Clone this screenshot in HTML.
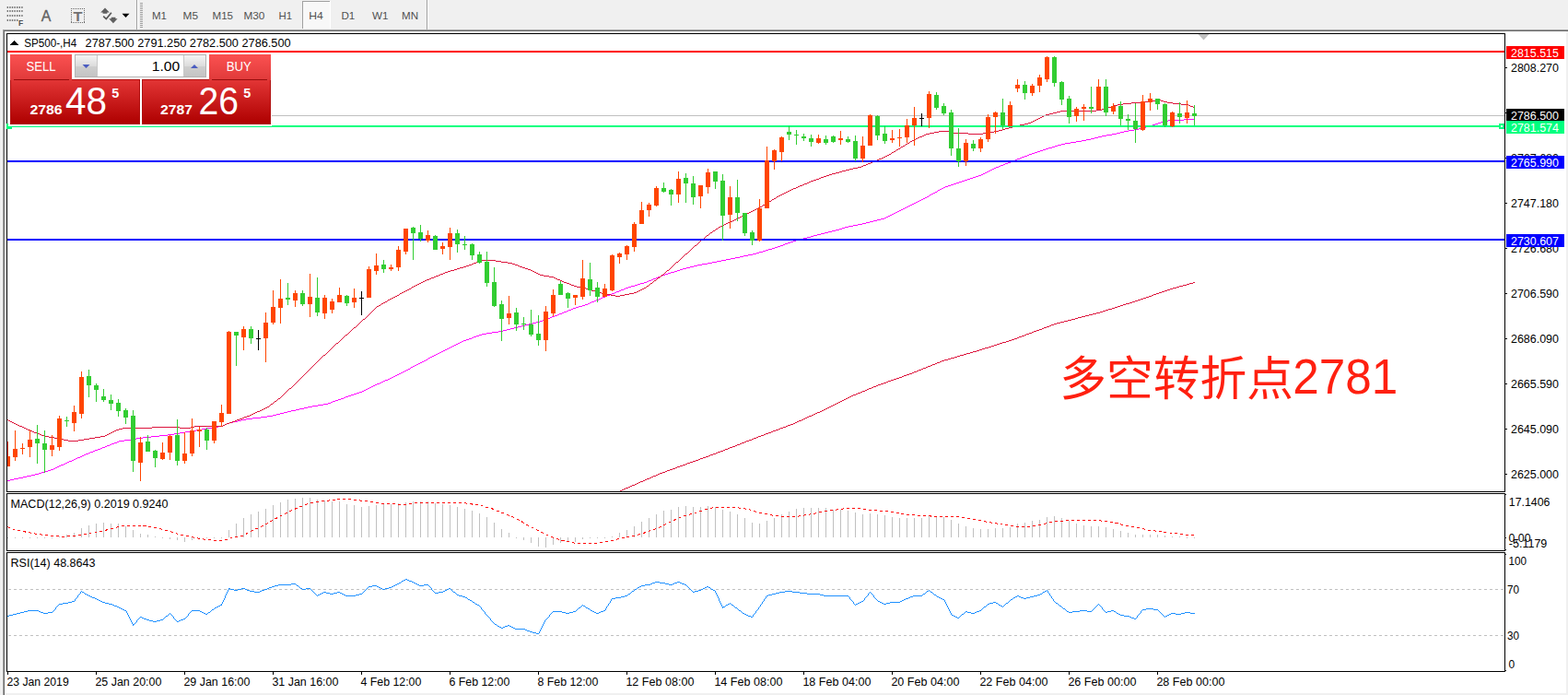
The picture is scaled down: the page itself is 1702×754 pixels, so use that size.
<!DOCTYPE html>
<html><head><meta charset="utf-8"><title>SP500 H4</title>
<style>html,body{margin:0;padding:0;background:#f0f0f0;overflow:hidden}body{width:1702px;height:754px;font-family:"Liberation Sans",sans-serif}svg text{font-family:"Liberation Sans",sans-serif}</style>
</head><body>
<svg width="1702" height="754" viewBox="0 0 1702 754" font-family="Liberation Sans, sans-serif" style="display:block">
<defs>
<linearGradient id="gTab" x1="0" y1="0" x2="0" y2="1"><stop offset="0" stop-color="#fb5151"/><stop offset="1" stop-color="#e03a3a"/></linearGradient>
<linearGradient id="gBig" x1="0" y1="0" x2="0" y2="1"><stop offset="0" stop-color="#e23535"/><stop offset="1" stop-color="#ae0000"/></linearGradient>
<linearGradient id="gBtn" x1="0" y1="0" x2="0" y2="1"><stop offset="0" stop-color="#f4f4f4"/><stop offset="0.5" stop-color="#dcdcdc"/><stop offset="0.5" stop-color="#cfcfcf"/><stop offset="1" stop-color="#c4c4c4"/></linearGradient>
</defs>
<rect x="0" y="0" width="1702" height="754" fill="#f0f0f0" />
<g shape-rendering="crispEdges">
<rect x="3" y="32" width="1699" height="1" fill="#a0a0a0" />
<rect x="3" y="33" width="1699" height="1" fill="#696969" />
<rect x="3" y="32" width="1" height="722" fill="#a0a0a0" />
<rect x="4" y="33" width="1" height="721" fill="#696969" />
<rect x="5" y="34" width="1695" height="718" fill="#ffffff" />
<rect x="148" y="0" width="1" height="32" fill="#a0a0a0" />
<rect x="149" y="0" width="1" height="32" fill="#ffffff" />
<rect x="463" y="0" width="1" height="32" fill="#a0a0a0" />
<rect x="464" y="0" width="1" height="32" fill="#ffffff" />
<rect x="152" y="3" width="3" height="1" fill="#a0a0a0" />
<rect x="152" y="5" width="3" height="1" fill="#a0a0a0" />
<rect x="152" y="7" width="3" height="1" fill="#a0a0a0" />
<rect x="152" y="9" width="3" height="1" fill="#a0a0a0" />
<rect x="152" y="11" width="3" height="1" fill="#a0a0a0" />
<rect x="152" y="13" width="3" height="1" fill="#a0a0a0" />
<rect x="152" y="15" width="3" height="1" fill="#a0a0a0" />
<rect x="152" y="17" width="3" height="1" fill="#a0a0a0" />
<rect x="152" y="19" width="3" height="1" fill="#a0a0a0" />
<rect x="152" y="21" width="3" height="1" fill="#a0a0a0" />
<rect x="152" y="23" width="3" height="1" fill="#a0a0a0" />
<rect x="152" y="25" width="3" height="1" fill="#a0a0a0" />
<rect x="152" y="27" width="3" height="1" fill="#a0a0a0" />
<rect x="152" y="29" width="3" height="1" fill="#a0a0a0" />
<rect x="328" y="1" width="31" height="30" fill="#f8f8f8" />
<rect x="328" y="1" width="31" height="1" fill="#a0a0a0" />
<rect x="328" y="1" width="1" height="30" fill="#a0a0a0" />
<rect x="358" y="1" width="1" height="30" fill="#ffffff" />
</g>
<rect x="7.6" y="7" width="1.4" height="2" fill="#7a7a7a"/>
<rect x="10.2" y="7" width="1.4" height="2" fill="#7a7a7a"/>
<rect x="12.8" y="7" width="1.4" height="2" fill="#7a7a7a"/>
<rect x="15.4" y="7" width="1.4" height="2" fill="#7a7a7a"/>
<rect x="18.0" y="7" width="1.4" height="2" fill="#7a7a7a"/>
<rect x="20.6" y="7" width="1.4" height="2" fill="#7a7a7a"/>
<rect x="23.2" y="7" width="1.4" height="2" fill="#7a7a7a"/>
<rect x="7.6" y="11" width="1.4" height="2" fill="#7a7a7a"/>
<rect x="10.2" y="11" width="1.4" height="2" fill="#7a7a7a"/>
<rect x="12.8" y="11" width="1.4" height="2" fill="#7a7a7a"/>
<rect x="15.4" y="11" width="1.4" height="2" fill="#7a7a7a"/>
<rect x="18.0" y="11" width="1.4" height="2" fill="#7a7a7a"/>
<rect x="20.6" y="11" width="1.4" height="2" fill="#7a7a7a"/>
<rect x="23.2" y="11" width="1.4" height="2" fill="#7a7a7a"/>
<rect x="7.6" y="16" width="1.4" height="2" fill="#7a7a7a"/>
<rect x="10.2" y="16" width="1.4" height="2" fill="#7a7a7a"/>
<rect x="12.8" y="16" width="1.4" height="2" fill="#7a7a7a"/>
<rect x="15.4" y="16" width="1.4" height="2" fill="#7a7a7a"/>
<rect x="18.0" y="16" width="1.4" height="2" fill="#7a7a7a"/>
<rect x="20.6" y="16" width="1.4" height="2" fill="#7a7a7a"/>
<rect x="23.2" y="16" width="1.4" height="2" fill="#7a7a7a"/>
<rect x="7.6" y="21" width="1.4" height="2" fill="#7a7a7a"/>
<rect x="10.2" y="21" width="1.4" height="2" fill="#7a7a7a"/>
<rect x="12.8" y="21" width="1.4" height="2" fill="#7a7a7a"/>
<rect x="15.4" y="21" width="1.4" height="2" fill="#7a7a7a"/>
<rect x="18.0" y="21" width="1.4" height="2" fill="#7a7a7a"/>
<g shape-rendering="crispEdges">
<rect x="77" y="9" width="1" height="1" fill="#686868" />
<rect x="77" y="24" width="1" height="1" fill="#686868" />
<rect x="79" y="9" width="1" height="1" fill="#686868" />
<rect x="79" y="24" width="1" height="1" fill="#686868" />
<rect x="81" y="9" width="1" height="1" fill="#686868" />
<rect x="81" y="24" width="1" height="1" fill="#686868" />
<rect x="83" y="9" width="1" height="1" fill="#686868" />
<rect x="83" y="24" width="1" height="1" fill="#686868" />
<rect x="85" y="9" width="1" height="1" fill="#686868" />
<rect x="85" y="24" width="1" height="1" fill="#686868" />
<rect x="87" y="9" width="1" height="1" fill="#686868" />
<rect x="87" y="24" width="1" height="1" fill="#686868" />
<rect x="89" y="9" width="1" height="1" fill="#686868" />
<rect x="89" y="24" width="1" height="1" fill="#686868" />
<rect x="91" y="9" width="1" height="1" fill="#686868" />
<rect x="91" y="24" width="1" height="1" fill="#686868" />
<rect x="77" y="9" width="1" height="1" fill="#686868" />
<rect x="91" y="9" width="1" height="1" fill="#686868" />
<rect x="77" y="11" width="1" height="1" fill="#686868" />
<rect x="91" y="11" width="1" height="1" fill="#686868" />
<rect x="77" y="13" width="1" height="1" fill="#686868" />
<rect x="91" y="13" width="1" height="1" fill="#686868" />
<rect x="77" y="15" width="1" height="1" fill="#686868" />
<rect x="91" y="15" width="1" height="1" fill="#686868" />
<rect x="77" y="17" width="1" height="1" fill="#686868" />
<rect x="91" y="17" width="1" height="1" fill="#686868" />
<rect x="77" y="19" width="1" height="1" fill="#686868" />
<rect x="91" y="19" width="1" height="1" fill="#686868" />
<rect x="77" y="21" width="1" height="1" fill="#686868" />
<rect x="91" y="21" width="1" height="1" fill="#686868" />
<rect x="77" y="23" width="1" height="1" fill="#686868" />
<rect x="91" y="23" width="1" height="1" fill="#686868" />
</g>
<text x="20" y="27.6" font-size="8.5" fill="#505050" font-weight="bold" >F</text>
<text x="44.8" y="22.6" font-size="16.5" fill="#606060" textLength="10.6" lengthAdjust="spacingAndGlyphs" stroke="#606060" stroke-width="0.3">A</text>
<text x="79.5" y="22.5" font-size="14.5" fill="#707070" textLength="10" lengthAdjust="spacingAndGlyphs" font-weight="bold" >T</text>
<path d="M114 8.4 L118.8 13.6 L116.3 13.6 L116.3 14.8 L111.6 14.8 L111.6 13.6 L109.2 13.6 Z" fill="#606060"/>
<path d="M122.9 25.3 L118.3 20.3 L120.7 20.3 L120.7 18.8 L125.4 18.8 L125.4 20.3 L127.6 20.3 Z" fill="#606060"/>
<path d="M112.2 17.7 L115.3 20.6 L120.9 13.7" fill="none" stroke="#585858" stroke-width="1.7"/>
<path d="M132.5 14.8 L140.5 14.8 L136.5 19 Z" fill="#000"/>
<text x="165" y="20.7" font-size="11.5" fill="#505050" textLength="16" lengthAdjust="spacingAndGlyphs" >M1</text>
<text x="198.5" y="20.7" font-size="11.5" fill="#505050" textLength="16.5" lengthAdjust="spacingAndGlyphs" >M5</text>
<text x="230.5" y="20.7" font-size="11.5" fill="#505050" textLength="22.5" lengthAdjust="spacingAndGlyphs" >M15</text>
<text x="264.4" y="20.7" font-size="11.5" fill="#505050" textLength="22.9" lengthAdjust="spacingAndGlyphs" >M30</text>
<text x="302.6" y="20.7" font-size="11.5" fill="#505050" textLength="14.5" lengthAdjust="spacingAndGlyphs" >H1</text>
<text x="335.2" y="20.7" font-size="11.5" fill="#505050" textLength="15.5" lengthAdjust="spacingAndGlyphs" >H4</text>
<text x="370.4" y="20.7" font-size="11.5" fill="#505050" textLength="14.8" lengthAdjust="spacingAndGlyphs" >D1</text>
<text x="404" y="20.7" font-size="11.5" fill="#505050" textLength="17.4" lengthAdjust="spacingAndGlyphs" >W1</text>
<text x="436" y="20.7" font-size="11.5" fill="#505050" textLength="18" lengthAdjust="spacingAndGlyphs" >MN</text>
<g shape-rendering="crispEdges">
<rect x="7" y="36" width="1627" height="1" fill="#000" />
<rect x="7" y="533" width="1627" height="1" fill="#000" />
<rect x="7" y="36" width="1" height="498" fill="#000" />
<rect x="1633" y="36" width="1" height="498" fill="#000" />
<rect x="7" y="535" width="1627" height="1" fill="#000" />
<rect x="7" y="597" width="1627" height="1" fill="#000" />
<rect x="7" y="535" width="1" height="63" fill="#000" />
<rect x="1633" y="535" width="1" height="63" fill="#000" />
<rect x="7" y="599" width="1627" height="1" fill="#000" />
<rect x="7" y="728" width="1627" height="1" fill="#000" />
<rect x="7" y="599" width="1" height="130" fill="#000" />
<rect x="1633" y="599" width="1" height="130" fill="#000" />
<path d="M1295 306h2v1h-2zM1291 307h4v1h-4zM1288 308h3v1h-3zM1284 309h4v1h-4zM1280 310h4v1h-4zM1277 311h3v1h-3zM1273 312h4v1h-4zM1270 313h3v1h-3zM1267 314h3v1h-3zM1264 315h3v1h-3zM1261 316h3v1h-3zM1258 317h3v1h-3zM1255 318h3v1h-3zM1252 319h3v1h-3zM1250 320h2v1h-2zM1247 321h3v1h-3zM1244 322h3v1h-3zM1241 323h3v1h-3zM1238 324h3v1h-3zM1235 325h3v1h-3zM1232 326h3v1h-3zM1229 327h3v1h-3zM1226 328h3v1h-3zM1222 329h4v1h-4zM1219 330h3v1h-3zM1216 331h3v1h-3zM1213 332h3v1h-3zM1210 333h3v1h-3zM1207 334h3v1h-3zM1203 335h4v1h-4zM1200 336h3v1h-3zM1197 337h3v1h-3zM1194 338h3v1h-3zM1190 339h4v1h-4zM1186 340h4v1h-4zM1182 341h4v1h-4zM1178 342h4v1h-4zM1174 343h4v1h-4zM1170 344h4v1h-4zM1167 345h3v1h-3zM1163 346h4v1h-4zM1159 347h4v1h-4zM1155 348h4v1h-4zM1151 349h4v1h-4zM1147 350h4v1h-4zM1144 351h3v1h-3zM1141 352h3v1h-3zM1139 353h2v1h-2zM1136 354h3v1h-3zM1133 355h3v1h-3zM1131 356h2v1h-2zM1128 357h3v1h-3zM1125 358h3v1h-3zM1122 359h3v1h-3zM1120 360h2v1h-2zM1117 361h3v1h-3zM1114 362h3v1h-3zM1112 363h2v1h-2zM1109 364h3v1h-3zM1106 365h3v1h-3zM1104 366h2v1h-2zM1101 367h3v1h-3zM1098 368h3v1h-3zM1095 369h3v1h-3zM1092 370h3v1h-3zM1088 371h4v1h-4zM1085 372h3v1h-3zM1082 373h3v1h-3zM1079 374h3v1h-3zM1076 375h3v1h-3zM1073 376h3v1h-3zM1069 377h4v1h-4zM1066 378h3v1h-3zM1063 379h3v1h-3zM1060 380h3v1h-3zM1056 381h4v1h-4zM1053 382h3v1h-3zM1049 383h4v1h-4zM1046 384h3v1h-3zM1042 385h4v1h-4zM1039 386h3v1h-3zM1036 387h3v1h-3zM1032 388h4v1h-4zM1029 389h3v1h-3zM1025 390h4v1h-4zM1022 391h3v1h-3zM1020 392h2v1h-2zM1017 393h3v1h-3zM1015 394h2v1h-2zM1012 395h3v1h-3zM1010 396h2v1h-2zM1007 397h3v1h-3zM1005 398h2v1h-2zM1002 399h3v1h-3zM1000 400h2v1h-2zM997 401h3v1h-3zM995 402h2v1h-2zM992 403h3v1h-3zM990 404h2v1h-2zM987 405h3v1h-3zM984 406h3v1h-3zM981 407h3v1h-3zM979 408h2v1h-2zM976 409h3v1h-3zM973 410h3v1h-3zM970 411h3v1h-3zM967 412h3v1h-3zM964 413h3v1h-3zM962 414h2v1h-2zM959 415h3v1h-3zM956 416h3v1h-3zM953 417h3v1h-3zM951 418h2v1h-2zM948 419h3v1h-3zM946 420h2v1h-2zM943 421h3v1h-3zM941 422h2v1h-2zM939 423h2v1h-2zM936 424h3v1h-3zM934 425h2v1h-2zM931 426h3v1h-3zM929 427h2v1h-2zM926 428h3v1h-3zM924 429h2v1h-2zM922 430h2v1h-2zM920 431h2v1h-2zM918 432h2v1h-2zM916 433h2v1h-2zM914 434h2v1h-2zM912 435h2v1h-2zM910 436h2v1h-2zM908 437h2v1h-2zM906 438h2v1h-2zM904 439h2v1h-2zM902 440h2v1h-2zM900 441h2v1h-2zM898 442h2v1h-2zM896 443h2v1h-2zM894 444h2v1h-2zM892 445h2v1h-2zM890 446h2v1h-2zM887 447h3v1h-3zM885 448h2v1h-2zM883 449h2v1h-2zM881 450h2v1h-2zM878 451h3v1h-3zM876 452h2v1h-2zM874 453h2v1h-2zM872 454h2v1h-2zM870 455h2v1h-2zM867 456h3v1h-3zM865 457h2v1h-2zM863 458h2v1h-2zM861 459h2v1h-2zM858 460h3v1h-3zM855 461h3v1h-3zM853 462h2v1h-2zM850 463h3v1h-3zM847 464h3v1h-3zM845 465h2v1h-2zM842 466h3v1h-3zM839 467h3v1h-3zM837 468h2v1h-2zM834 469h3v1h-3zM831 470h3v1h-3zM829 471h2v1h-2zM826 472h3v1h-3zM823 473h3v1h-3zM821 474h2v1h-2zM818 475h3v1h-3zM816 476h2v1h-2zM813 477h3v1h-3zM810 478h3v1h-3zM808 479h2v1h-2zM805 480h3v1h-3zM803 481h2v1h-2zM800 482h3v1h-3zM798 483h2v1h-2zM795 484h3v1h-3zM792 485h3v1h-3zM790 486h2v1h-2zM787 487h3v1h-3zM785 488h2v1h-2zM782 489h3v1h-3zM779 490h3v1h-3zM777 491h2v1h-2zM774 492h3v1h-3zM771 493h3v1h-3zM769 494h2v1h-2zM766 495h3v1h-3zM763 496h3v1h-3zM760 497h3v1h-3zM758 498h2v1h-2zM755 499h3v1h-3zM752 500h3v1h-3zM749 501h3v1h-3zM746 502h3v1h-3zM744 503h2v1h-2zM741 504h3v1h-3zM738 505h3v1h-3zM735 506h3v1h-3zM733 507h2v1h-2zM730 508h3v1h-3zM727 509h3v1h-3zM724 510h3v1h-3zM722 511h2v1h-2zM719 512h3v1h-3zM716 513h3v1h-3zM714 514h2v1h-2zM712 515h2v1h-2zM709 516h3v1h-3zM707 517h2v1h-2zM705 518h2v1h-2zM702 519h3v1h-3zM700 520h2v1h-2zM698 521h2v1h-2zM695 522h3v1h-3zM693 523h2v1h-2zM691 524h2v1h-2zM689 525h2v1h-2zM686 526h3v1h-3zM684 527h2v1h-2zM682 528h2v1h-2zM679 529h3v1h-3zM677 530h2v1h-2zM675 531h2v1h-2zM673 532h2v1h-2z" fill="#DC143C"/>
<path d="M1285 129h12v1h-12zM1268 130h17v1h-17zM1264 131h4v1h-4zM1260 132h4v1h-4zM1257 133h3v1h-3zM1254 134h3v1h-3zM1251 135h3v1h-3zM1248 136h3v1h-3zM1244 137h4v1h-4zM1240 138h4v1h-4zM1236 139h4v1h-4zM1231 140h5v1h-5zM1225 141h6v1h-6zM1220 142h5v1h-5zM1216 143h4v1h-4zM1212 144h4v1h-4zM1207 145h5v1h-5zM1201 146h6v1h-6zM1196 147h5v1h-5zM1192 148h4v1h-4zM1188 149h4v1h-4zM1184 150h4v1h-4zM1179 151h5v1h-5zM1174 152h5v1h-5zM1168 153h6v1h-6zM1162 154h6v1h-6zM1156 155h6v1h-6zM1152 156h4v1h-4zM1148 157h4v1h-4zM1145 158h3v1h-3zM1142 159h3v1h-3zM1138 160h4v1h-4zM1135 161h3v1h-3zM1132 162h3v1h-3zM1129 163h3v1h-3zM1126 164h3v1h-3zM1123 165h3v1h-3zM1120 166h3v1h-3zM1117 167h3v1h-3zM1115 168h2v1h-2zM1112 169h3v1h-3zM1109 170h3v1h-3zM1107 171h2v1h-2zM1104 172h3v1h-3zM1102 173h2v1h-2zM1099 174h3v1h-3zM1097 175h2v1h-2zM1094 176h3v1h-3zM1091 177h3v1h-3zM1089 178h2v1h-2zM1086 179h3v1h-3zM1084 180h2v1h-2zM1081 181h3v1h-3zM1079 182h2v1h-2zM1077 183h2v1h-2zM1075 184h2v1h-2zM1073 185h2v1h-2zM1071 186h2v1h-2zM1069 187h2v1h-2zM1067 188h2v1h-2zM1065 189h2v1h-2zM1062 190h3v1h-3zM1059 191h3v1h-3zM1056 192h3v1h-3zM1053 193h3v1h-3zM1050 194h3v1h-3zM1047 195h3v1h-3zM1044 196h3v1h-3zM1041 197h3v1h-3zM1038 198h3v1h-3zM1035 199h3v1h-3zM1032 200h3v1h-3zM1029 201h3v1h-3zM1026 202h3v1h-3zM1024 203h2v1h-2zM1022 204h2v1h-2zM1020 205h2v1h-2zM1018 206h2v1h-2zM1017 207h1v1h-1zM1015 208h2v1h-2zM1013 209h2v1h-2zM1011 210h2v1h-2zM1009 211h2v1h-2zM1008 212h1v1h-1zM1006 213h2v1h-2zM1004 214h2v1h-2zM1002 215h2v1h-2zM1000 216h2v1h-2zM998 217h2v1h-2zM996 218h2v1h-2zM994 219h2v1h-2zM992 220h2v1h-2zM990 221h2v1h-2zM988 222h2v1h-2zM986 223h2v1h-2zM984 224h2v1h-2zM982 225h2v1h-2zM980 226h2v1h-2zM978 227h2v1h-2zM976 228h2v1h-2zM974 229h2v1h-2zM972 230h2v1h-2zM970 231h2v1h-2zM968 232h2v1h-2zM966 233h2v1h-2zM964 234h2v1h-2zM962 235h2v1h-2zM960 236h2v1h-2zM956 237h4v1h-4zM952 238h4v1h-4zM948 239h4v1h-4zM944 240h4v1h-4zM940 241h4v1h-4zM936 242h4v1h-4zM931 243h5v1h-5zM926 244h5v1h-5zM921 245h5v1h-5zM917 246h4v1h-4zM914 247h3v1h-3zM911 248h3v1h-3zM907 249h4v1h-4zM903 250h4v1h-4zM899 251h4v1h-4zM895 252h4v1h-4zM891 253h4v1h-4zM887 254h4v1h-4zM883 255h4v1h-4zM880 256h3v1h-3zM876 257h4v1h-4zM872 258h4v1h-4zM868 259h4v1h-4zM864 260h4v1h-4zM861 261h3v1h-3zM858 262h3v1h-3zM855 263h3v1h-3zM852 264h3v1h-3zM850 265h2v1h-2zM847 266h3v1h-3zM844 267h3v1h-3zM841 268h3v1h-3zM838 269h3v1h-3zM834 270h4v1h-4zM831 271h3v1h-3zM828 272h3v1h-3zM824 273h4v1h-4zM821 274h3v1h-3zM817 275h4v1h-4zM812 276h5v1h-5zM807 277h5v1h-5zM803 278h4v1h-4zM798 279h5v1h-5zM793 280h5v1h-5zM788 281h5v1h-5zM783 282h5v1h-5zM778 283h5v1h-5zM773 284h5v1h-5zM768 285h5v1h-5zM762 286h6v1h-6zM757 287h5v1h-5zM753 288h4v1h-4zM749 289h4v1h-4zM745 290h4v1h-4zM741 291h4v1h-4zM738 292h3v1h-3zM735 293h3v1h-3zM732 294h3v1h-3zM728 295h4v1h-4zM725 296h3v1h-3zM722 297h3v1h-3zM719 298h3v1h-3zM717 299h2v1h-2zM714 300h3v1h-3zM712 301h2v1h-2zM709 302h3v1h-3zM707 303h2v1h-2zM704 304h3v1h-3zM702 305h2v1h-2zM699 306h3v1h-3zM695 307h4v1h-4zM692 308h3v1h-3zM689 309h3v1h-3zM685 310h4v1h-4zM682 311h3v1h-3zM679 312h3v1h-3zM677 313h2v1h-2zM674 314h3v1h-3zM672 315h2v1h-2zM669 316h3v1h-3zM667 317h2v1h-2zM664 318h3v1h-3zM662 319h2v1h-2zM659 320h3v1h-3zM657 321h2v1h-2zM654 322h3v1h-3zM652 323h2v1h-2zM650 324h2v1h-2zM647 325h3v1h-3zM645 326h2v1h-2zM642 327h3v1h-3zM640 328h2v1h-2zM638 329h2v1h-2zM635 330h3v1h-3zM632 331h3v1h-3zM628 332h4v1h-4zM625 333h3v1h-3zM622 334h3v1h-3zM620 335h2v1h-2zM617 336h3v1h-3zM615 337h2v1h-2zM612 338h3v1h-3zM610 339h2v1h-2zM607 340h3v1h-3zM605 341h2v1h-2zM602 342h3v1h-3zM599 343h3v1h-3zM597 344h2v1h-2zM594 345h3v1h-3zM591 346h3v1h-3zM589 347h2v1h-2zM586 348h3v1h-3zM582 349h4v1h-4zM578 350h4v1h-4zM574 351h4v1h-4zM570 352h4v1h-4zM566 353h4v1h-4zM562 354h4v1h-4zM558 355h4v1h-4zM554 356h4v1h-4zM550 357h4v1h-4zM546 358h4v1h-4zM541 359h5v1h-5zM534 360h7v1h-7zM528 361h6v1h-6zM523 362h5v1h-5zM520 363h3v1h-3zM517 364h3v1h-3zM514 365h3v1h-3zM512 366h2v1h-2zM509 367h3v1h-3zM506 368h3v1h-3zM503 369h3v1h-3zM501 370h2v1h-2zM499 371h2v1h-2zM497 372h2v1h-2zM495 373h2v1h-2zM493 374h2v1h-2zM491 375h2v1h-2zM489 376h2v1h-2zM487 377h2v1h-2zM485 378h2v1h-2zM483 379h2v1h-2zM481 380h2v1h-2zM479 381h2v1h-2zM477 382h2v1h-2zM475 383h2v1h-2zM473 384h2v1h-2zM471 385h2v1h-2zM469 386h2v1h-2zM467 387h2v1h-2zM465 388h2v1h-2zM464 389h1v1h-1zM462 390h2v1h-2zM460 391h2v1h-2zM458 392h2v1h-2zM456 393h2v1h-2zM454 394h2v1h-2zM452 395h2v1h-2zM450 396h2v1h-2zM448 397h2v1h-2zM446 398h2v1h-2zM445 399h1v1h-1zM443 400h2v1h-2zM441 401h2v1h-2zM439 402h2v1h-2zM437 403h2v1h-2zM435 404h2v1h-2zM433 405h2v1h-2zM431 406h2v1h-2zM429 407h2v1h-2zM427 408h2v1h-2zM425 409h2v1h-2zM423 410h2v1h-2zM421 411h2v1h-2zM418 412h3v1h-3zM416 413h2v1h-2zM414 414h2v1h-2zM412 415h2v1h-2zM409 416h3v1h-3zM407 417h2v1h-2zM405 418h2v1h-2zM403 419h2v1h-2zM401 420h2v1h-2zM399 421h2v1h-2zM397 422h2v1h-2zM395 423h2v1h-2zM393 424h2v1h-2zM390 425h3v1h-3zM387 426h3v1h-3zM384 427h3v1h-3zM381 428h3v1h-3zM378 429h3v1h-3zM375 430h3v1h-3zM373 431h2v1h-2zM370 432h3v1h-3zM367 433h3v1h-3zM364 434h3v1h-3zM361 435h3v1h-3zM359 436h2v1h-2zM356 437h3v1h-3zM351 438h5v1h-5zM345 439h6v1h-6zM339 440h6v1h-6zM334 441h5v1h-5zM330 442h4v1h-4zM325 443h5v1h-5zM321 444h4v1h-4zM316 445h5v1h-5zM312 446h4v1h-4zM308 447h4v1h-4zM304 448h4v1h-4zM300 449h4v1h-4zM296 450h4v1h-4zM290 451h6v1h-6zM283 452h7v1h-7zM274 453h9v1h-9zM267 454h7v1h-7zM262 455h5v1h-5zM258 456h4v1h-4zM253 457h5v1h-5zM249 458h4v1h-4zM246 459h3v1h-3zM244 460h2v1h-2zM242 461h2v1h-2zM237 462h5v1h-5zM231 463h6v1h-6zM225 464h6v1h-6zM219 465h6v1h-6zM213 466h6v1h-6zM207 467h6v1h-6zM201 468h6v1h-6zM195 469h6v1h-6zM189 470h6v1h-6zM182 471h7v1h-7zM173 472h9v1h-9zM164 473h9v1h-9zM155 474h9v1h-9zM148 475h7v1h-7zM143 476h5v1h-5zM135 477h8v1h-8zM129 478h6v1h-6zM127 479h2v1h-2zM124 480h3v1h-3zM121 481h3v1h-3zM119 482h2v1h-2zM116 483h3v1h-3zM114 484h2v1h-2zM111 485h3v1h-3zM109 486h2v1h-2zM106 487h3v1h-3zM103 488h3v1h-3zM101 489h2v1h-2zM98 490h3v1h-3zM96 491h2v1h-2zM93 492h3v1h-3zM91 493h2v1h-2zM89 494h2v1h-2zM87 495h2v1h-2zM84 496h3v1h-3zM82 497h2v1h-2zM80 498h2v1h-2zM78 499h2v1h-2zM75 500h3v1h-3zM73 501h2v1h-2zM71 502h2v1h-2zM69 503h2v1h-2zM66 504h3v1h-3zM64 505h2v1h-2zM62 506h2v1h-2zM60 507h2v1h-2zM58 508h2v1h-2zM55 509h3v1h-3zM52 510h3v1h-3zM48 511h4v1h-4zM45 512h3v1h-3zM42 513h3v1h-3zM38 514h4v1h-4zM34 515h4v1h-4zM29 516h5v1h-5zM25 517h4v1h-4zM20 518h5v1h-5zM15 519h5v1h-5zM11 520h4v1h-4zM8 521h3v1h-3z" fill="#FF00FF"/>
<path d="M1255 108h5v1h-5zM1249 109h6v1h-6zM1260 109h3v1h-3zM1240 110h9v1h-9zM1263 110h4v1h-4zM1228 111h12v1h-12zM1267 111h6v1h-6zM1219 112h9v1h-9zM1273 112h9v1h-9zM1213 113h6v1h-6zM1282 113h8v1h-8zM1209 114h4v1h-4zM1290 114h2v1h-2zM1206 115h3v1h-3zM1292 115h3v1h-3zM1203 116h3v1h-3zM1295 116h2v1h-2zM1200 117h3v1h-3zM1196 118h4v1h-4zM1190 119h6v1h-6zM1151 120h39v1h-39zM1147 121h4v1h-4zM1143 122h4v1h-4zM1139 123h4v1h-4zM1135 124h4v1h-4zM1133 125h2v1h-2zM1131 126h2v1h-2zM1129 127h2v1h-2zM1127 128h2v1h-2zM1125 129h2v1h-2zM1123 130h2v1h-2zM1121 131h2v1h-2zM1119 132h2v1h-2zM1116 133h3v1h-3zM1112 134h4v1h-4zM1107 135h5v1h-5zM1103 136h4v1h-4zM1099 137h4v1h-4zM1095 138h4v1h-4zM1091 139h4v1h-4zM1088 140h3v1h-3zM1084 141h4v1h-4zM1019 142h11v1h-11zM1079 142h5v1h-5zM1014 143h5v1h-5zM1030 143h4v1h-4zM1073 143h6v1h-6zM1009 144h5v1h-5zM1034 144h17v1h-17zM1067 144h6v1h-6zM1005 145h4v1h-4zM1051 145h16v1h-16zM1003 146h2v1h-2zM1001 147h2v1h-2zM998 148h3v1h-3zM996 149h2v1h-2zM994 150h2v1h-2zM992 151h2v1h-2zM990 152h2v1h-2zM988 153h2v1h-2zM987 154h1v1h-1zM985 155h2v1h-2zM983 156h2v1h-2zM982 157h1v1h-1zM980 158h2v1h-2zM978 159h2v1h-2zM977 160h1v1h-1zM975 161h2v1h-2zM973 162h2v1h-2zM972 163h1v1h-1zM970 164h2v1h-2zM968 165h2v1h-2zM967 166h1v1h-1zM965 167h2v1h-2zM963 168h2v1h-2zM961 169h2v1h-2zM959 170h2v1h-2zM957 171h2v1h-2zM954 172h3v1h-3zM952 173h2v1h-2zM950 174h2v1h-2zM947 175h3v1h-3zM945 176h2v1h-2zM942 177h3v1h-3zM940 178h2v1h-2zM937 179h3v1h-3zM935 180h2v1h-2zM931 181h4v1h-4zM926 182h5v1h-5zM922 183h4v1h-4zM918 184h4v1h-4zM914 185h4v1h-4zM911 186h3v1h-3zM907 187h4v1h-4zM903 188h4v1h-4zM900 189h3v1h-3zM897 190h3v1h-3zM894 191h3v1h-3zM891 192h3v1h-3zM889 193h2v1h-2zM886 194h3v1h-3zM883 195h3v1h-3zM880 196h3v1h-3zM878 197h2v1h-2zM876 198h2v1h-2zM873 199h3v1h-3zM871 200h2v1h-2zM868 201h3v1h-3zM866 202h2v1h-2zM864 203h2v1h-2zM861 204h3v1h-3zM859 205h2v1h-2zM857 206h2v1h-2zM855 207h2v1h-2zM853 208h2v1h-2zM851 209h2v1h-2zM849 210h2v1h-2zM847 211h2v1h-2zM845 212h2v1h-2zM843 213h2v1h-2zM842 214h1v1h-1zM840 215h2v1h-2zM838 216h2v1h-2zM837 217h1v1h-1zM835 218h2v1h-2zM833 219h2v1h-2zM832 220h1v1h-1zM830 221h2v1h-2zM828 222h2v1h-2zM827 223h1v1h-1zM825 224h2v1h-2zM823 225h2v1h-2zM821 226h2v1h-2zM819 227h2v1h-2zM817 228h2v1h-2zM815 229h2v1h-2zM813 230h2v1h-2zM811 231h2v1h-2zM809 232h2v1h-2zM807 233h2v1h-2zM805 234h2v1h-2zM803 235h2v1h-2zM801 236h2v1h-2zM799 237h2v1h-2zM797 238h2v1h-2zM795 239h2v1h-2zM792 240h3v1h-3zM790 241h2v1h-2zM788 242h2v1h-2zM786 243h2v1h-2zM784 244h2v1h-2zM782 245h2v1h-2zM780 246h2v1h-2zM779 247h1v1h-1zM777 248h2v1h-2zM776 249h1v1h-1zM774 250h2v1h-2zM773 251h1v1h-1zM771 252h2v1h-2zM770 253h1v1h-1zM769 254h1v1h-1zM767 255h2v1h-2zM766 256h1v1h-1zM765 257h1v1h-1zM764 258h1v1h-1zM763 259h1v1h-1zM761 260h2v1h-2zM760 261h1v1h-1zM759 262h1v1h-1zM758 263h1v1h-1zM757 264h1v1h-1zM756 265h1v1h-1zM754 266h2v1h-2zM753 267h1v1h-1zM752 268h1v1h-1zM751 269h1v1h-1zM750 270h1v1h-1zM749 271h1v1h-1zM748 272h1v1h-1zM747 273h1v1h-1zM746 274h1v1h-1zM744 275h2v1h-2zM743 276h1v1h-1zM742 277h1v1h-1zM741 278h1v1h-1zM740 279h1v1h-1zM739 280h1v1h-1zM738 281h1v1h-1zM523 282h15v1h-15zM737 282h1v1h-1zM520 283h3v1h-3zM538 283h6v1h-6zM736 283h1v1h-1zM517 284h3v1h-3zM544 284h7v1h-7zM734 284h2v1h-2zM514 285h3v1h-3zM551 285h5v1h-5zM733 285h1v1h-1zM512 286h2v1h-2zM556 286h3v1h-3zM732 286h1v1h-1zM509 287h3v1h-3zM559 287h3v1h-3zM731 287h1v1h-1zM506 288h3v1h-3zM562 288h2v1h-2zM730 288h1v1h-1zM503 289h3v1h-3zM564 289h3v1h-3zM729 289h1v1h-1zM499 290h4v1h-4zM567 290h3v1h-3zM728 290h1v1h-1zM496 291h3v1h-3zM570 291h3v1h-3zM727 291h1v1h-1zM493 292h3v1h-3zM573 292h3v1h-3zM726 292h1v1h-1zM489 293h4v1h-4zM576 293h2v1h-2zM724 293h2v1h-2zM486 294h3v1h-3zM578 294h2v1h-2zM723 294h1v1h-1zM483 295h3v1h-3zM580 295h2v1h-2zM722 295h1v1h-1zM481 296h2v1h-2zM582 296h2v1h-2zM721 296h1v1h-1zM478 297h3v1h-3zM584 297h2v1h-2zM720 297h1v1h-1zM476 298h2v1h-2zM586 298h4v1h-4zM718 298h2v1h-2zM473 299h3v1h-3zM590 299h6v1h-6zM717 299h1v1h-1zM471 300h2v1h-2zM596 300h5v1h-5zM716 300h1v1h-1zM468 301h3v1h-3zM601 301h2v1h-2zM714 301h2v1h-2zM466 302h2v1h-2zM603 302h2v1h-2zM713 302h1v1h-1zM463 303h3v1h-3zM605 303h3v1h-3zM712 303h1v1h-1zM461 304h2v1h-2zM608 304h2v1h-2zM710 304h2v1h-2zM459 305h2v1h-2zM610 305h2v1h-2zM709 305h1v1h-1zM457 306h2v1h-2zM612 306h3v1h-3zM708 306h1v1h-1zM455 307h2v1h-2zM615 307h3v1h-3zM706 307h2v1h-2zM453 308h2v1h-2zM618 308h2v1h-2zM705 308h1v1h-1zM451 309h2v1h-2zM620 309h3v1h-3zM704 309h1v1h-1zM449 310h2v1h-2zM623 310h3v1h-3zM702 310h2v1h-2zM447 311h2v1h-2zM626 311h5v1h-5zM701 311h1v1h-1zM446 312h1v1h-1zM631 312h5v1h-5zM699 312h2v1h-2zM444 313h2v1h-2zM636 313h3v1h-3zM697 313h2v1h-2zM442 314h2v1h-2zM639 314h3v1h-3zM695 314h2v1h-2zM440 315h2v1h-2zM642 315h4v1h-4zM693 315h2v1h-2zM438 316h2v1h-2zM646 316h3v1h-3zM691 316h2v1h-2zM436 317h2v1h-2zM649 317h4v1h-4zM688 317h3v1h-3zM434 318h2v1h-2zM653 318h5v1h-5zM683 318h5v1h-5zM433 319h1v1h-1zM658 319h5v1h-5zM678 319h5v1h-5zM431 320h2v1h-2zM663 320h5v1h-5zM673 320h5v1h-5zM429 321h2v1h-2zM668 321h5v1h-5zM427 322h2v1h-2zM425 323h2v1h-2zM423 324h2v1h-2zM421 325h2v1h-2zM420 326h1v1h-1zM418 327h2v1h-2zM416 328h2v1h-2zM414 329h2v1h-2zM413 330h1v1h-1zM411 331h2v1h-2zM409 332h2v1h-2zM408 333h1v1h-1zM407 334h1v1h-1zM406 335h1v1h-1zM405 336h1v1h-1zM404 337h1v1h-1zM403 338h1v1h-1zM402 339h1v1h-1zM401 340h1v1h-1zM400 341h1v1h-1zM399 342h1v1h-1zM398 343h1v1h-1zM397 344h1v1h-1zM396 345h1v1h-1zM394 346h2v1h-2zM393 347h1v1h-1zM392 348h1v1h-1zM391 349h1v1h-1zM390 350h1v1h-1zM389 351h1v1h-1zM388 352h1v1h-1zM387 353h1v1h-1zM386 354h1v1h-1zM384 355h2v1h-2zM383 356h1v1h-1zM382 357h1v1h-1zM381 358h1v1h-1zM380 359h1v1h-1zM379 360h1v1h-1zM378 361h1v1h-1zM377 362h1v1h-1zM375 363h2v1h-2zM374 364h1v1h-1zM373 365h1v1h-1zM372 366h1v1h-1zM371 367h1v1h-1zM370 368h1v1h-1zM369 369h1v1h-1zM368 370h1v1h-1zM367 371h1v1h-1zM365 372h2v1h-2zM364 373h1v1h-1zM363 374h1v1h-1zM362 375h1v1h-1zM361 376h1v1h-1zM360 377h1v1h-1zM359 378h1v1h-1zM358 379h1v1h-1zM357 380h1v1h-1zM356 381h1v1h-1zM355 382h1v1h-1zM354 383h1v1h-1zM353 384h1v1h-1zM351 385h2v1h-2zM350 386h1v1h-1zM349 387h1v1h-1zM348 388h1v1h-1zM347 389h1v1h-1zM346 390h1v1h-1zM345 391h1v1h-1zM344 392h1v1h-1zM343 393h1v1h-1zM342 394h1v1h-1zM341 395h1v1h-1zM340 396h1v1h-1zM339 397h1v1h-1zM338 398h1v1h-1zM337 399h1v1h-1zM336 400h1v1h-1zM335 401h1v1h-1zM334 402h1v1h-1zM333 403h1v1h-1zM332 404h1v1h-1zM331 405h1v1h-1zM330 406h1v1h-1zM329 407h1v1h-1zM328 408h1v1h-1zM327 409h1v1h-1zM326 410h1v1h-1zM325 411h1v1h-1zM324 412h1v1h-1zM323 413h1v1h-1zM322 414h1v1h-1zM321 415h1v1h-1zM320 416h1v1h-1zM319 417h1v1h-1zM318 418h1v1h-1zM317 419h1v1h-1zM316 420h1v1h-1zM314 421h2v1h-2zM313 422h1v1h-1zM312 423h1v1h-1zM311 424h1v1h-1zM310 425h1v1h-1zM309 426h1v1h-1zM308 427h1v1h-1zM307 428h1v1h-1zM306 429h1v1h-1zM305 430h1v1h-1zM304 431h1v1h-1zM302 432h2v1h-2zM301 433h1v1h-1zM300 434h1v1h-1zM298 435h2v1h-2zM297 436h1v1h-1zM296 437h1v1h-1zM294 438h2v1h-2zM293 439h1v1h-1zM292 440h1v1h-1zM290 441h2v1h-2zM288 442h2v1h-2zM286 443h2v1h-2zM284 444h2v1h-2zM282 445h2v1h-2zM279 446h3v1h-3zM277 447h2v1h-2zM275 448h2v1h-2zM273 449h2v1h-2zM271 450h2v1h-2zM268 451h3v1h-3zM265 452h3v1h-3zM263 453h2v1h-2zM260 454h3v1h-3zM8 455h1v1h-1zM257 455h3v1h-3zM9 456h2v1h-2zM255 456h2v1h-2zM11 457h2v1h-2zM252 457h3v1h-3zM13 458h2v1h-2zM249 458h3v1h-3zM15 459h2v1h-2zM246 459h3v1h-3zM17 460h2v1h-2zM244 460h2v1h-2zM19 461h2v1h-2zM242 461h2v1h-2zM21 462h3v1h-3zM211 462h31v1h-31zM24 463h2v1h-2zM165 463h30v1h-30zM207 463h4v1h-4zM26 464h2v1h-2zM133 464h32v1h-32zM195 464h12v1h-12zM28 465h2v1h-2zM129 465h4v1h-4zM30 466h2v1h-2zM126 466h3v1h-3zM32 467h3v1h-3zM124 467h2v1h-2zM35 468h2v1h-2zM122 468h2v1h-2zM37 469h3v1h-3zM120 469h2v1h-2zM40 470h3v1h-3zM118 470h2v1h-2zM43 471h2v1h-2zM116 471h2v1h-2zM45 472h3v1h-3zM114 472h2v1h-2zM48 473h5v1h-5zM109 473h5v1h-5zM53 474h6v1h-6zM103 474h6v1h-6zM59 475h6v1h-6zM97 475h6v1h-6zM65 476h4v1h-4zM91 476h6v1h-6zM69 477h5v1h-5zM85 477h6v1h-6zM74 478h11v1h-11z" fill="#DC143C"/>
<rect x="295" y="125" width="1338" height="1" fill="#c0c0c0" />
<rect x="8" y="55" width="1625" height="2" fill="#FF0000" />
<rect x="8" y="136" width="1625" height="2" fill="#00FF7F" />
<rect x="8" y="174" width="1625" height="2" fill="#0000FF" />
<rect x="8" y="259" width="1625" height="2" fill="#0000FF" />
<rect x="7" y="134" width="2" height="6" fill="#00FF7F" />
<rect x="7" y="138" width="6" height="2" fill="#00FF7F" />
<rect x="1627" y="134" width="6" height="6" fill="#00FF7F" />
<rect x="1629" y="136" width="2" height="2" fill="#ffffff" />
</g>
<path d="M1300.5 37 L1312.5 37 L1306.5 43.5 Z" fill="#c0c0c0"/>
<g shape-rendering="crispEdges">
<line x1="9" y1="639.5" x2="1633" y2="639.5" stroke="#c0c0c0" stroke-width="1" stroke-dasharray="3,3"/>
<line x1="9" y1="689.5" x2="1633" y2="689.5" stroke="#c0c0c0" stroke-width="1" stroke-dasharray="3,3"/>
<rect x="8" y="583" width="1" height="1" fill="#c0c0c0" />
<rect x="16" y="583" width="1" height="1" fill="#c0c0c0" />
<rect x="24" y="583" width="1" height="1" fill="#c0c0c0" />
<rect x="32" y="583" width="1" height="1" fill="#c0c0c0" />
<rect x="40" y="583" width="1" height="1" fill="#c0c0c0" />
<rect x="48" y="583" width="1" height="1" fill="#c0c0c0" />
<rect x="56" y="583" width="1" height="1" fill="#c0c0c0" />
<rect x="64" y="582" width="1" height="1" fill="#c0c0c0" />
<rect x="72" y="580" width="1" height="3" fill="#c0c0c0" />
<rect x="80" y="578" width="1" height="5" fill="#c0c0c0" />
<rect x="88" y="573" width="1" height="10" fill="#c0c0c0" />
<rect x="96" y="570" width="1" height="13" fill="#c0c0c0" />
<rect x="104" y="568" width="1" height="15" fill="#c0c0c0" />
<rect x="112" y="567" width="1" height="16" fill="#c0c0c0" />
<rect x="120" y="568" width="1" height="15" fill="#c0c0c0" />
<rect x="128" y="568" width="1" height="15" fill="#c0c0c0" />
<rect x="136" y="571" width="1" height="12" fill="#c0c0c0" />
<rect x="144" y="575" width="1" height="8" fill="#c0c0c0" />
<rect x="152" y="579" width="1" height="4" fill="#c0c0c0" />
<rect x="160" y="580" width="1" height="3" fill="#c0c0c0" />
<rect x="168" y="582" width="1" height="1" fill="#c0c0c0" />
<rect x="176" y="583" width="1" height="1" fill="#c0c0c0" />
<rect x="184" y="583" width="1" height="2" fill="#c0c0c0" />
<rect x="192" y="583" width="1" height="3" fill="#c0c0c0" />
<rect x="200" y="583" width="1" height="5" fill="#c0c0c0" />
<rect x="208" y="583" width="1" height="3" fill="#c0c0c0" />
<rect x="216" y="583" width="1" height="2" fill="#c0c0c0" />
<rect x="224" y="583" width="1" height="1" fill="#c0c0c0" />
<rect x="232" y="583" width="1" height="1" fill="#c0c0c0" />
<rect x="240" y="583" width="1" height="1" fill="#c0c0c0" />
<rect x="248" y="575" width="1" height="8" fill="#c0c0c0" />
<rect x="256" y="568" width="1" height="15" fill="#c0c0c0" />
<rect x="264" y="562" width="1" height="21" fill="#c0c0c0" />
<rect x="272" y="558" width="1" height="25" fill="#c0c0c0" />
<rect x="280" y="555" width="1" height="28" fill="#c0c0c0" />
<rect x="288" y="552" width="1" height="31" fill="#c0c0c0" />
<rect x="296" y="548" width="1" height="35" fill="#c0c0c0" />
<rect x="304" y="545" width="1" height="38" fill="#c0c0c0" />
<rect x="312" y="542" width="1" height="41" fill="#c0c0c0" />
<rect x="320" y="541" width="1" height="42" fill="#c0c0c0" />
<rect x="328" y="540" width="1" height="43" fill="#c0c0c0" />
<rect x="336" y="540" width="1" height="43" fill="#c0c0c0" />
<rect x="344" y="542" width="1" height="41" fill="#c0c0c0" />
<rect x="352" y="543" width="1" height="40" fill="#c0c0c0" />
<rect x="360" y="544" width="1" height="39" fill="#c0c0c0" />
<rect x="368" y="544" width="1" height="39" fill="#c0c0c0" />
<rect x="376" y="547" width="1" height="36" fill="#c0c0c0" />
<rect x="384" y="548" width="1" height="35" fill="#c0c0c0" />
<rect x="392" y="550" width="1" height="33" fill="#c0c0c0" />
<rect x="400" y="549" width="1" height="34" fill="#c0c0c0" />
<rect x="408" y="548" width="1" height="35" fill="#c0c0c0" />
<rect x="416" y="547" width="1" height="36" fill="#c0c0c0" />
<rect x="424" y="547" width="1" height="36" fill="#c0c0c0" />
<rect x="432" y="546" width="1" height="37" fill="#c0c0c0" />
<rect x="440" y="545" width="1" height="38" fill="#c0c0c0" />
<rect x="448" y="544" width="1" height="39" fill="#c0c0c0" />
<rect x="456" y="544" width="1" height="39" fill="#c0c0c0" />
<rect x="464" y="544" width="1" height="39" fill="#c0c0c0" />
<rect x="472" y="546" width="1" height="37" fill="#c0c0c0" />
<rect x="480" y="547" width="1" height="36" fill="#c0c0c0" />
<rect x="488" y="548" width="1" height="35" fill="#c0c0c0" />
<rect x="496" y="550" width="1" height="33" fill="#c0c0c0" />
<rect x="504" y="552" width="1" height="31" fill="#c0c0c0" />
<rect x="512" y="554" width="1" height="29" fill="#c0c0c0" />
<rect x="520" y="557" width="1" height="26" fill="#c0c0c0" />
<rect x="528" y="561" width="1" height="22" fill="#c0c0c0" />
<rect x="536" y="567" width="1" height="16" fill="#c0c0c0" />
<rect x="544" y="574" width="1" height="9" fill="#c0c0c0" />
<rect x="552" y="578" width="1" height="5" fill="#c0c0c0" />
<rect x="560" y="583" width="1" height="1" fill="#c0c0c0" />
<rect x="568" y="583" width="1" height="3" fill="#c0c0c0" />
<rect x="576" y="583" width="1" height="6" fill="#c0c0c0" />
<rect x="584" y="583" width="1" height="10" fill="#c0c0c0" />
<rect x="592" y="583" width="1" height="11" fill="#c0c0c0" />
<rect x="600" y="583" width="1" height="8" fill="#c0c0c0" />
<rect x="608" y="583" width="1" height="6" fill="#c0c0c0" />
<rect x="616" y="583" width="1" height="5" fill="#c0c0c0" />
<rect x="624" y="583" width="1" height="5" fill="#c0c0c0" />
<rect x="632" y="583" width="1" height="2" fill="#c0c0c0" />
<rect x="640" y="583" width="1" height="1" fill="#c0c0c0" />
<rect x="648" y="583" width="1" height="1" fill="#c0c0c0" />
<rect x="656" y="583" width="1" height="1" fill="#c0c0c0" />
<rect x="664" y="582" width="1" height="1" fill="#c0c0c0" />
<rect x="672" y="578" width="1" height="5" fill="#c0c0c0" />
<rect x="680" y="575" width="1" height="8" fill="#c0c0c0" />
<rect x="688" y="571" width="1" height="12" fill="#c0c0c0" />
<rect x="696" y="566" width="1" height="17" fill="#c0c0c0" />
<rect x="704" y="562" width="1" height="21" fill="#c0c0c0" />
<rect x="712" y="558" width="1" height="25" fill="#c0c0c0" />
<rect x="720" y="554" width="1" height="29" fill="#c0c0c0" />
<rect x="728" y="553" width="1" height="30" fill="#c0c0c0" />
<rect x="736" y="550" width="1" height="33" fill="#c0c0c0" />
<rect x="744" y="549" width="1" height="34" fill="#c0c0c0" />
<rect x="752" y="550" width="1" height="33" fill="#c0c0c0" />
<rect x="760" y="550" width="1" height="33" fill="#c0c0c0" />
<rect x="768" y="549" width="1" height="34" fill="#c0c0c0" />
<rect x="776" y="550" width="1" height="33" fill="#c0c0c0" />
<rect x="784" y="553" width="1" height="30" fill="#c0c0c0" />
<rect x="792" y="555" width="1" height="28" fill="#c0c0c0" />
<rect x="800" y="558" width="1" height="25" fill="#c0c0c0" />
<rect x="808" y="562" width="1" height="21" fill="#c0c0c0" />
<rect x="816" y="567" width="1" height="16" fill="#c0c0c0" />
<rect x="824" y="568" width="1" height="15" fill="#c0c0c0" />
<rect x="832" y="565" width="1" height="18" fill="#c0c0c0" />
<rect x="840" y="562" width="1" height="21" fill="#c0c0c0" />
<rect x="848" y="558" width="1" height="25" fill="#c0c0c0" />
<rect x="856" y="555" width="1" height="28" fill="#c0c0c0" />
<rect x="864" y="552" width="1" height="31" fill="#c0c0c0" />
<rect x="872" y="551" width="1" height="32" fill="#c0c0c0" />
<rect x="880" y="551" width="1" height="32" fill="#c0c0c0" />
<rect x="888" y="551" width="1" height="32" fill="#c0c0c0" />
<rect x="896" y="551" width="1" height="32" fill="#c0c0c0" />
<rect x="904" y="553" width="1" height="30" fill="#c0c0c0" />
<rect x="912" y="553" width="1" height="30" fill="#c0c0c0" />
<rect x="920" y="554" width="1" height="29" fill="#c0c0c0" />
<rect x="928" y="556" width="1" height="27" fill="#c0c0c0" />
<rect x="936" y="558" width="1" height="25" fill="#c0c0c0" />
<rect x="944" y="557" width="1" height="26" fill="#c0c0c0" />
<rect x="952" y="558" width="1" height="25" fill="#c0c0c0" />
<rect x="960" y="559" width="1" height="24" fill="#c0c0c0" />
<rect x="968" y="561" width="1" height="22" fill="#c0c0c0" />
<rect x="976" y="562" width="1" height="21" fill="#c0c0c0" />
<rect x="984" y="562" width="1" height="21" fill="#c0c0c0" />
<rect x="992" y="562" width="1" height="21" fill="#c0c0c0" />
<rect x="1000" y="562" width="1" height="21" fill="#c0c0c0" />
<rect x="1008" y="560" width="1" height="23" fill="#c0c0c0" />
<rect x="1016" y="560" width="1" height="23" fill="#c0c0c0" />
<rect x="1024" y="561" width="1" height="22" fill="#c0c0c0" />
<rect x="1032" y="564" width="1" height="19" fill="#c0c0c0" />
<rect x="1040" y="568" width="1" height="15" fill="#c0c0c0" />
<rect x="1048" y="571" width="1" height="12" fill="#c0c0c0" />
<rect x="1056" y="573" width="1" height="10" fill="#c0c0c0" />
<rect x="1064" y="574" width="1" height="9" fill="#c0c0c0" />
<rect x="1072" y="574" width="1" height="9" fill="#c0c0c0" />
<rect x="1080" y="573" width="1" height="10" fill="#c0c0c0" />
<rect x="1088" y="573" width="1" height="10" fill="#c0c0c0" />
<rect x="1096" y="572" width="1" height="11" fill="#c0c0c0" />
<rect x="1104" y="568" width="1" height="15" fill="#c0c0c0" />
<rect x="1112" y="567" width="1" height="16" fill="#c0c0c0" />
<rect x="1120" y="565" width="1" height="18" fill="#c0c0c0" />
<rect x="1128" y="564" width="1" height="19" fill="#c0c0c0" />
<rect x="1136" y="561" width="1" height="22" fill="#c0c0c0" />
<rect x="1144" y="560" width="1" height="23" fill="#c0c0c0" />
<rect x="1152" y="562" width="1" height="21" fill="#c0c0c0" />
<rect x="1160" y="565" width="1" height="18" fill="#c0c0c0" />
<rect x="1168" y="568" width="1" height="15" fill="#c0c0c0" />
<rect x="1176" y="570" width="1" height="13" fill="#c0c0c0" />
<rect x="1184" y="571" width="1" height="12" fill="#c0c0c0" />
<rect x="1192" y="571" width="1" height="12" fill="#c0c0c0" />
<rect x="1200" y="572" width="1" height="11" fill="#c0c0c0" />
<rect x="1208" y="574" width="1" height="9" fill="#c0c0c0" />
<rect x="1216" y="576" width="1" height="7" fill="#c0c0c0" />
<rect x="1224" y="578" width="1" height="5" fill="#c0c0c0" />
<rect x="1232" y="580" width="1" height="3" fill="#c0c0c0" />
<rect x="1240" y="580" width="1" height="3" fill="#c0c0c0" />
<rect x="1248" y="580" width="1" height="3" fill="#c0c0c0" />
<rect x="1256" y="580" width="1" height="3" fill="#c0c0c0" />
<rect x="1264" y="581" width="1" height="2" fill="#c0c0c0" />
<rect x="1272" y="582" width="1" height="1" fill="#c0c0c0" />
<rect x="1280" y="582" width="1" height="1" fill="#c0c0c0" />
<rect x="1288" y="583" width="1" height="1" fill="#c0c0c0" />
<rect x="1296" y="583" width="1" height="1" fill="#c0c0c0" />
<rect x="8" y="479" width="1" height="27" fill="#FF4500" />
<rect x="8" y="495" width="3" height="11" fill="#FF4500" />
<rect x="16" y="467" width="1" height="33" fill="#FF4500" />
<rect x="14" y="487" width="5" height="9" fill="#FF4500" />
<rect x="24" y="481" width="1" height="12" fill="#FF4500" />
<rect x="22" y="486" width="5" height="1" fill="#FF4500" />
<rect x="32" y="466" width="1" height="30" fill="#FF4500" />
<rect x="30" y="477" width="5" height="8" fill="#FF4500" />
<rect x="40" y="461" width="1" height="42" fill="#32CD32" />
<rect x="38" y="476" width="5" height="5" fill="#32CD32" />
<rect x="48" y="467" width="1" height="46" fill="#32CD32" />
<rect x="46" y="481" width="5" height="7" fill="#32CD32" />
<rect x="56" y="472" width="1" height="23" fill="#FF4500" />
<rect x="54" y="483" width="5" height="5" fill="#FF4500" />
<rect x="64" y="451" width="1" height="38" fill="#FF4500" />
<rect x="62" y="454" width="5" height="31" fill="#FF4500" />
<rect x="72" y="452" width="1" height="11" fill="#32CD32" />
<rect x="70" y="456" width="5" height="1" fill="#32CD32" />
<rect x="80" y="440" width="1" height="28" fill="#FF4500" />
<rect x="78" y="447" width="5" height="12" fill="#FF4500" />
<rect x="88" y="403" width="1" height="51" fill="#FF4500" />
<rect x="86" y="409" width="5" height="40" fill="#FF4500" />
<rect x="96" y="401" width="1" height="30" fill="#32CD32" />
<rect x="94" y="408" width="5" height="10" fill="#32CD32" />
<rect x="104" y="416" width="1" height="20" fill="#32CD32" />
<rect x="102" y="418" width="5" height="5" fill="#32CD32" />
<rect x="112" y="422" width="1" height="14" fill="#32CD32" />
<rect x="110" y="430" width="5" height="4" fill="#32CD32" />
<rect x="120" y="428" width="1" height="17" fill="#32CD32" />
<rect x="118" y="434" width="5" height="4" fill="#32CD32" />
<rect x="128" y="433" width="1" height="19" fill="#32CD32" />
<rect x="126" y="437" width="5" height="9" fill="#32CD32" />
<rect x="136" y="443" width="1" height="17" fill="#32CD32" />
<rect x="134" y="445" width="5" height="8" fill="#32CD32" />
<rect x="144" y="445" width="1" height="67" fill="#32CD32" />
<rect x="142" y="451" width="5" height="49" fill="#32CD32" />
<rect x="152" y="474" width="1" height="48" fill="#FF4500" />
<rect x="150" y="480" width="5" height="22" fill="#FF4500" />
<rect x="160" y="472" width="1" height="18" fill="#32CD32" />
<rect x="158" y="479" width="5" height="11" fill="#32CD32" />
<rect x="168" y="488" width="1" height="19" fill="#32CD32" />
<rect x="166" y="489" width="5" height="8" fill="#32CD32" />
<rect x="176" y="480" width="1" height="19" fill="#FF4500" />
<rect x="174" y="491" width="5" height="7" fill="#FF4500" />
<rect x="184" y="472" width="1" height="27" fill="#FF4500" />
<rect x="182" y="473" width="5" height="18" fill="#FF4500" />
<rect x="192" y="455" width="1" height="50" fill="#32CD32" />
<rect x="190" y="472" width="5" height="28" fill="#32CD32" />
<rect x="200" y="469" width="1" height="34" fill="#FF4500" />
<rect x="198" y="492" width="5" height="8" fill="#FF4500" />
<rect x="208" y="454" width="1" height="41" fill="#FF4500" />
<rect x="206" y="467" width="5" height="25" fill="#FF4500" />
<rect x="216" y="463" width="1" height="22" fill="#FF4500" />
<rect x="214" y="466" width="5" height="2" fill="#FF4500" />
<rect x="224" y="464" width="1" height="24" fill="#32CD32" />
<rect x="222" y="466" width="5" height="12" fill="#32CD32" />
<rect x="232" y="457" width="1" height="24" fill="#FF4500" />
<rect x="230" y="457" width="5" height="21" fill="#FF4500" />
<rect x="240" y="439" width="1" height="24" fill="#FF4500" />
<rect x="238" y="448" width="5" height="10" fill="#FF4500" />
<rect x="248" y="359" width="1" height="90" fill="#FF4500" />
<rect x="246" y="360" width="5" height="89" fill="#FF4500" />
<rect x="256" y="360" width="1" height="37" fill="#32CD32" />
<rect x="254" y="360" width="5" height="4" fill="#32CD32" />
<rect x="264" y="354" width="1" height="26" fill="#FF4500" />
<rect x="262" y="357" width="5" height="9" fill="#FF4500" />
<rect x="272" y="354" width="1" height="19" fill="#32CD32" />
<rect x="270" y="357" width="5" height="10" fill="#32CD32" />
<rect x="280" y="358" width="1" height="22" fill="#000" />
<rect x="278" y="367" width="5" height="1" fill="#000" />
<rect x="288" y="339" width="1" height="54" fill="#FF4500" />
<rect x="286" y="350" width="5" height="17" fill="#FF4500" />
<rect x="296" y="315" width="1" height="37" fill="#FF4500" />
<rect x="294" y="333" width="5" height="17" fill="#FF4500" />
<rect x="304" y="303" width="1" height="48" fill="#FF4500" />
<rect x="302" y="324" width="5" height="10" fill="#FF4500" />
<rect x="312" y="307" width="1" height="24" fill="#32CD32" />
<rect x="310" y="323" width="5" height="2" fill="#32CD32" />
<rect x="320" y="315" width="1" height="18" fill="#FF4500" />
<rect x="318" y="318" width="5" height="8" fill="#FF4500" />
<rect x="328" y="315" width="1" height="17" fill="#32CD32" />
<rect x="326" y="318" width="5" height="12" fill="#32CD32" />
<rect x="336" y="297" width="1" height="47" fill="#FF4500" />
<rect x="334" y="322" width="5" height="8" fill="#FF4500" />
<rect x="344" y="301" width="1" height="42" fill="#32CD32" />
<rect x="342" y="323" width="5" height="16" fill="#32CD32" />
<rect x="352" y="320" width="1" height="26" fill="#FF4500" />
<rect x="350" y="323" width="5" height="17" fill="#FF4500" />
<rect x="360" y="324" width="1" height="16" fill="#FF4500" />
<rect x="358" y="327" width="5" height="9" fill="#FF4500" />
<rect x="368" y="312" width="1" height="16" fill="#FF4500" />
<rect x="366" y="320" width="5" height="8" fill="#FF4500" />
<rect x="376" y="320" width="1" height="12" fill="#32CD32" />
<rect x="374" y="321" width="5" height="8" fill="#32CD32" />
<rect x="384" y="313" width="1" height="21" fill="#FF4500" />
<rect x="382" y="323" width="5" height="5" fill="#FF4500" />
<rect x="392" y="316" width="1" height="26" fill="#000" />
<rect x="390" y="323" width="5" height="1" fill="#000" />
<rect x="400" y="289" width="1" height="34" fill="#FF4500" />
<rect x="398" y="292" width="5" height="31" fill="#FF4500" />
<rect x="408" y="275" width="1" height="23" fill="#FF4500" />
<rect x="406" y="288" width="5" height="6" fill="#FF4500" />
<rect x="416" y="282" width="1" height="14" fill="#32CD32" />
<rect x="414" y="287" width="5" height="5" fill="#32CD32" />
<rect x="424" y="287" width="1" height="7" fill="#FF4500" />
<rect x="422" y="290" width="5" height="2" fill="#FF4500" />
<rect x="432" y="267" width="1" height="27" fill="#FF4500" />
<rect x="430" y="271" width="5" height="19" fill="#FF4500" />
<rect x="440" y="248" width="1" height="28" fill="#FF4500" />
<rect x="438" y="248" width="5" height="25" fill="#FF4500" />
<rect x="448" y="246" width="1" height="36" fill="#32CD32" />
<rect x="446" y="247" width="5" height="6" fill="#32CD32" />
<rect x="456" y="244" width="1" height="18" fill="#32CD32" />
<rect x="454" y="252" width="5" height="7" fill="#32CD32" />
<rect x="464" y="250" width="1" height="13" fill="#FF4500" />
<rect x="462" y="255" width="5" height="6" fill="#FF4500" />
<rect x="472" y="255" width="1" height="16" fill="#32CD32" />
<rect x="470" y="256" width="5" height="15" fill="#32CD32" />
<rect x="480" y="263" width="1" height="13" fill="#FF4500" />
<rect x="478" y="267" width="5" height="3" fill="#FF4500" />
<rect x="488" y="247" width="1" height="35" fill="#FF4500" />
<rect x="486" y="253" width="5" height="15" fill="#FF4500" />
<rect x="496" y="249" width="1" height="25" fill="#32CD32" />
<rect x="494" y="253" width="5" height="12" fill="#32CD32" />
<rect x="504" y="256" width="1" height="15" fill="#32CD32" />
<rect x="502" y="265" width="5" height="1" fill="#32CD32" />
<rect x="512" y="264" width="1" height="18" fill="#32CD32" />
<rect x="510" y="265" width="5" height="12" fill="#32CD32" />
<rect x="520" y="273" width="1" height="13" fill="#32CD32" />
<rect x="518" y="276" width="5" height="9" fill="#32CD32" />
<rect x="528" y="273" width="1" height="38" fill="#32CD32" />
<rect x="526" y="284" width="5" height="23" fill="#32CD32" />
<rect x="536" y="290" width="1" height="43" fill="#32CD32" />
<rect x="534" y="306" width="5" height="26" fill="#32CD32" />
<rect x="544" y="326" width="1" height="44" fill="#32CD32" />
<rect x="542" y="330" width="5" height="16" fill="#32CD32" />
<rect x="552" y="321" width="1" height="31" fill="#FF4500" />
<rect x="550" y="340" width="5" height="5" fill="#FF4500" />
<rect x="560" y="334" width="1" height="25" fill="#32CD32" />
<rect x="558" y="339" width="5" height="13" fill="#32CD32" />
<rect x="568" y="344" width="1" height="14" fill="#32CD32" />
<rect x="566" y="351" width="5" height="1" fill="#32CD32" />
<rect x="576" y="336" width="1" height="29" fill="#32CD32" />
<rect x="574" y="352" width="5" height="11" fill="#32CD32" />
<rect x="584" y="342" width="1" height="33" fill="#32CD32" />
<rect x="582" y="362" width="5" height="7" fill="#32CD32" />
<rect x="592" y="332" width="1" height="49" fill="#FF4500" />
<rect x="590" y="338" width="5" height="31" fill="#FF4500" />
<rect x="600" y="314" width="1" height="29" fill="#FF4500" />
<rect x="598" y="320" width="5" height="20" fill="#FF4500" />
<rect x="608" y="305" width="1" height="15" fill="#32CD32" />
<rect x="606" y="308" width="5" height="12" fill="#32CD32" />
<rect x="616" y="317" width="1" height="17" fill="#32CD32" />
<rect x="614" y="318" width="5" height="6" fill="#32CD32" />
<rect x="624" y="320" width="1" height="11" fill="#FF4500" />
<rect x="622" y="320" width="5" height="3" fill="#FF4500" />
<rect x="632" y="282" width="1" height="43" fill="#FF4500" />
<rect x="630" y="302" width="5" height="20" fill="#FF4500" />
<rect x="640" y="285" width="1" height="36" fill="#32CD32" />
<rect x="638" y="303" width="5" height="12" fill="#32CD32" />
<rect x="648" y="306" width="1" height="22" fill="#32CD32" />
<rect x="646" y="312" width="5" height="10" fill="#32CD32" />
<rect x="656" y="308" width="1" height="14" fill="#FF4500" />
<rect x="654" y="313" width="5" height="9" fill="#FF4500" />
<rect x="664" y="276" width="1" height="40" fill="#FF4500" />
<rect x="662" y="277" width="5" height="38" fill="#FF4500" />
<rect x="672" y="274" width="1" height="12" fill="#FF4500" />
<rect x="670" y="275" width="5" height="4" fill="#FF4500" />
<rect x="680" y="266" width="1" height="16" fill="#FF4500" />
<rect x="678" y="267" width="5" height="9" fill="#FF4500" />
<rect x="688" y="241" width="1" height="32" fill="#FF4500" />
<rect x="686" y="243" width="5" height="25" fill="#FF4500" />
<rect x="696" y="219" width="1" height="24" fill="#FF4500" />
<rect x="694" y="228" width="5" height="15" fill="#FF4500" />
<rect x="704" y="220" width="1" height="15" fill="#FF4500" />
<rect x="702" y="222" width="5" height="6" fill="#FF4500" />
<rect x="712" y="202" width="1" height="22" fill="#FF4500" />
<rect x="710" y="204" width="5" height="19" fill="#FF4500" />
<rect x="720" y="198" width="1" height="11" fill="#32CD32" />
<rect x="718" y="204" width="5" height="4" fill="#32CD32" />
<rect x="728" y="205" width="1" height="18" fill="#32CD32" />
<rect x="726" y="206" width="5" height="5" fill="#32CD32" />
<rect x="736" y="186" width="1" height="34" fill="#FF4500" />
<rect x="734" y="194" width="5" height="17" fill="#FF4500" />
<rect x="744" y="188" width="1" height="32" fill="#32CD32" />
<rect x="742" y="193" width="5" height="6" fill="#32CD32" />
<rect x="752" y="191" width="1" height="31" fill="#32CD32" />
<rect x="750" y="199" width="5" height="15" fill="#32CD32" />
<rect x="760" y="201" width="1" height="25" fill="#FF4500" />
<rect x="758" y="201" width="5" height="12" fill="#FF4500" />
<rect x="768" y="183" width="1" height="27" fill="#FF4500" />
<rect x="766" y="187" width="5" height="16" fill="#FF4500" />
<rect x="776" y="186" width="1" height="19" fill="#32CD32" />
<rect x="774" y="186" width="5" height="11" fill="#32CD32" />
<rect x="784" y="189" width="1" height="72" fill="#32CD32" />
<rect x="782" y="196" width="5" height="38" fill="#32CD32" />
<rect x="792" y="202" width="1" height="46" fill="#FF4500" />
<rect x="790" y="214" width="5" height="19" fill="#FF4500" />
<rect x="800" y="195" width="1" height="45" fill="#32CD32" />
<rect x="798" y="214" width="5" height="17" fill="#32CD32" />
<rect x="808" y="231" width="1" height="25" fill="#32CD32" />
<rect x="806" y="231" width="5" height="22" fill="#32CD32" />
<rect x="816" y="250" width="1" height="16" fill="#32CD32" />
<rect x="814" y="252" width="5" height="9" fill="#32CD32" />
<rect x="824" y="216" width="1" height="46" fill="#FF4500" />
<rect x="822" y="226" width="5" height="35" fill="#FF4500" />
<rect x="832" y="159" width="1" height="67" fill="#FF4500" />
<rect x="830" y="174" width="5" height="52" fill="#FF4500" />
<rect x="840" y="162" width="1" height="22" fill="#FF4500" />
<rect x="838" y="163" width="5" height="12" fill="#FF4500" />
<rect x="848" y="148" width="1" height="27" fill="#FF4500" />
<rect x="846" y="149" width="5" height="16" fill="#FF4500" />
<rect x="856" y="137" width="1" height="15" fill="#32CD32" />
<rect x="854" y="143" width="5" height="3" fill="#32CD32" />
<rect x="864" y="141" width="1" height="16" fill="#32CD32" />
<rect x="862" y="146" width="5" height="1" fill="#32CD32" />
<rect x="872" y="145" width="1" height="8" fill="#32CD32" />
<rect x="870" y="148" width="5" height="2" fill="#32CD32" />
<rect x="880" y="146" width="1" height="13" fill="#32CD32" />
<rect x="878" y="150" width="5" height="4" fill="#32CD32" />
<rect x="888" y="146" width="1" height="10" fill="#FF4500" />
<rect x="886" y="150" width="5" height="5" fill="#FF4500" />
<rect x="896" y="147" width="1" height="10" fill="#32CD32" />
<rect x="894" y="151" width="5" height="4" fill="#32CD32" />
<rect x="904" y="147" width="1" height="8" fill="#32CD32" />
<rect x="902" y="148" width="5" height="6" fill="#32CD32" />
<rect x="912" y="142" width="1" height="15" fill="#FF4500" />
<rect x="910" y="150" width="5" height="2" fill="#FF4500" />
<rect x="920" y="148" width="1" height="7" fill="#32CD32" />
<rect x="918" y="151" width="5" height="3" fill="#32CD32" />
<rect x="928" y="147" width="1" height="28" fill="#32CD32" />
<rect x="926" y="153" width="5" height="19" fill="#32CD32" />
<rect x="936" y="148" width="1" height="28" fill="#FF4500" />
<rect x="934" y="158" width="5" height="14" fill="#FF4500" />
<rect x="944" y="124" width="1" height="34" fill="#FF4500" />
<rect x="942" y="125" width="5" height="33" fill="#FF4500" />
<rect x="952" y="125" width="1" height="27" fill="#32CD32" />
<rect x="950" y="126" width="5" height="21" fill="#32CD32" />
<rect x="960" y="137" width="1" height="19" fill="#32CD32" />
<rect x="958" y="145" width="5" height="8" fill="#32CD32" />
<rect x="968" y="141" width="1" height="14" fill="#FF4500" />
<rect x="966" y="150" width="5" height="2" fill="#FF4500" />
<rect x="976" y="140" width="1" height="19" fill="#FF4500" />
<rect x="974" y="149" width="5" height="1" fill="#FF4500" />
<rect x="984" y="129" width="1" height="26" fill="#FF4500" />
<rect x="982" y="136" width="5" height="13" fill="#FF4500" />
<rect x="992" y="116" width="1" height="42" fill="#FF4500" />
<rect x="990" y="128" width="5" height="8" fill="#FF4500" />
<rect x="1000" y="123" width="1" height="14" fill="#000" />
<rect x="998" y="128" width="5" height="1" fill="#000" />
<rect x="1008" y="99" width="1" height="40" fill="#FF4500" />
<rect x="1006" y="102" width="5" height="26" fill="#FF4500" />
<rect x="1016" y="100" width="1" height="19" fill="#32CD32" />
<rect x="1014" y="103" width="5" height="14" fill="#32CD32" />
<rect x="1024" y="112" width="1" height="13" fill="#32CD32" />
<rect x="1022" y="115" width="5" height="8" fill="#32CD32" />
<rect x="1032" y="119" width="1" height="50" fill="#32CD32" />
<rect x="1030" y="122" width="5" height="39" fill="#32CD32" />
<rect x="1040" y="139" width="1" height="42" fill="#32CD32" />
<rect x="1038" y="161" width="5" height="14" fill="#32CD32" />
<rect x="1048" y="151" width="1" height="29" fill="#FF4500" />
<rect x="1046" y="155" width="5" height="20" fill="#FF4500" />
<rect x="1056" y="152" width="1" height="12" fill="#32CD32" />
<rect x="1054" y="156" width="5" height="5" fill="#32CD32" />
<rect x="1064" y="149" width="1" height="16" fill="#FF4500" />
<rect x="1062" y="151" width="5" height="10" fill="#FF4500" />
<rect x="1072" y="124" width="1" height="30" fill="#FF4500" />
<rect x="1070" y="127" width="5" height="24" fill="#FF4500" />
<rect x="1080" y="121" width="1" height="24" fill="#FF4500" />
<rect x="1078" y="122" width="5" height="5" fill="#FF4500" />
<rect x="1088" y="107" width="1" height="33" fill="#32CD32" />
<rect x="1086" y="122" width="5" height="14" fill="#32CD32" />
<rect x="1096" y="110" width="1" height="27" fill="#FF4500" />
<rect x="1094" y="114" width="5" height="23" fill="#FF4500" />
<rect x="1104" y="86" width="1" height="14" fill="#FF4500" />
<rect x="1102" y="92" width="5" height="4" fill="#FF4500" />
<rect x="1112" y="88" width="1" height="20" fill="#32CD32" />
<rect x="1110" y="92" width="5" height="9" fill="#32CD32" />
<rect x="1120" y="91" width="1" height="13" fill="#FF4500" />
<rect x="1118" y="93" width="5" height="8" fill="#FF4500" />
<rect x="1128" y="81" width="1" height="19" fill="#FF4500" />
<rect x="1126" y="84" width="5" height="9" fill="#FF4500" />
<rect x="1136" y="61" width="1" height="28" fill="#FF4500" />
<rect x="1134" y="62" width="5" height="24" fill="#FF4500" />
<rect x="1144" y="61" width="1" height="33" fill="#32CD32" />
<rect x="1142" y="62" width="5" height="28" fill="#32CD32" />
<rect x="1152" y="88" width="1" height="26" fill="#32CD32" />
<rect x="1150" y="89" width="5" height="19" fill="#32CD32" />
<rect x="1160" y="104" width="1" height="30" fill="#32CD32" />
<rect x="1158" y="107" width="5" height="20" fill="#32CD32" />
<rect x="1168" y="116" width="1" height="16" fill="#FF4500" />
<rect x="1166" y="118" width="5" height="8" fill="#FF4500" />
<rect x="1176" y="113" width="1" height="18" fill="#FF4500" />
<rect x="1174" y="116" width="5" height="2" fill="#FF4500" />
<rect x="1184" y="94" width="1" height="29" fill="#32CD32" />
<rect x="1182" y="116" width="5" height="2" fill="#32CD32" />
<rect x="1192" y="86" width="1" height="33" fill="#FF4500" />
<rect x="1190" y="94" width="5" height="25" fill="#FF4500" />
<rect x="1200" y="86" width="1" height="40" fill="#32CD32" />
<rect x="1198" y="94" width="5" height="28" fill="#32CD32" />
<rect x="1208" y="112" width="1" height="12" fill="#FF4500" />
<rect x="1206" y="115" width="5" height="6" fill="#FF4500" />
<rect x="1216" y="110" width="1" height="26" fill="#32CD32" />
<rect x="1214" y="115" width="5" height="14" fill="#32CD32" />
<rect x="1224" y="124" width="1" height="17" fill="#32CD32" />
<rect x="1222" y="129" width="5" height="2" fill="#32CD32" />
<rect x="1232" y="112" width="1" height="43" fill="#32CD32" />
<rect x="1230" y="131" width="5" height="9" fill="#32CD32" />
<rect x="1240" y="103" width="1" height="39" fill="#FF4500" />
<rect x="1238" y="110" width="5" height="31" fill="#FF4500" />
<rect x="1248" y="101" width="1" height="19" fill="#FF4500" />
<rect x="1246" y="107" width="5" height="4" fill="#FF4500" />
<rect x="1256" y="107" width="1" height="12" fill="#32CD32" />
<rect x="1254" y="107" width="5" height="6" fill="#32CD32" />
<rect x="1264" y="112" width="1" height="26" fill="#32CD32" />
<rect x="1262" y="113" width="5" height="23" fill="#32CD32" />
<rect x="1272" y="121" width="1" height="17" fill="#FF4500" />
<rect x="1270" y="122" width="5" height="15" fill="#FF4500" />
<rect x="1280" y="111" width="1" height="23" fill="#32CD32" />
<rect x="1278" y="123" width="5" height="4" fill="#32CD32" />
<rect x="1288" y="109" width="1" height="25" fill="#FF4500" />
<rect x="1286" y="122" width="5" height="6" fill="#FF4500" />
<rect x="1296" y="114" width="1" height="22" fill="#32CD32" />
<rect x="1294" y="123" width="5" height="3" fill="#32CD32" />
<polyline points="8.0,571.5 15.5,574.6 25.9,576.7 38.8,579.2 51.7,581.0 67.2,582.3 77.6,581.8 90.5,580.0 103.4,578.0 116.3,574.8 129.3,571.5 137.0,570.2 155.1,570.2 168.0,572.3 181.0,575.4 193.9,579.8 206.8,582.3 219.8,584.9 232.7,586.2 243.0,586.2 253.4,583.1 263.7,581.1 274.0,575.4 284.4,571.0 297.3,563.7 310.2,556.8 323.2,550.8 336.1,545.6 349.0,543.8 361.9,542.5 369.7,541.2 387.8,542.5 400.7,544.3 413.7,546.2 426.6,546.9 440.0,547.4 442.9,546.4 463.6,545.1 499.8,545.1 520.5,548.2 533.4,551.6 546.3,556.8 559.3,561.9 572.2,569.4 585.1,576.1 598.0,582.3 611.0,586.5 623.9,589.1 636.8,590.1 649.7,589.1 662.7,587.0 675.6,583.6 688.5,581.3 701.5,577.4 714.4,572.8 727.3,566.3 740.2,560.6 753.2,556.8 766.1,552.6 776.4,550.3 797.1,550.3 812.6,552.6 823.0,556.0 838.5,559.1 848.8,560.4 864.3,560.4 872.9,559.1 885.9,556.8 898.8,553.9 911.7,552.6 919.5,551.3 929.8,551.3 937.6,552.6 963.4,554.7 984.1,558.6 1002.2,559.3 1015.1,560.4 1035.8,560.4 1053.9,562.4 1066.8,565.5 1079.8,567.6 1092.7,569.7 1105.6,571.5 1118.5,571.0 1131.5,568.9 1144.4,565.8 1159.9,564.5 1190.9,564.5 1209.0,566.8 1222.0,570.2 1234.9,572.3 1247.8,575.4 1260.7,576.7 1273.7,578.5 1286.6,580.0 1296.9,580.5" fill="none" stroke="#FF0000" stroke-width="1" stroke-dasharray="3,3"/>
<path d="M440 628h2v1h-2zM438 629h2v1h-2zM442 629h2v1h-2zM436 630h2v1h-2zM444 630h3v1h-3zM435 631h1v1h-1zM447 631h2v1h-2zM711 631h5v1h-5zM735 631h3v1h-3zM433 632h2v1h-2zM449 632h2v1h-2zM708 632h3v1h-3zM716 632h6v1h-6zM732 632h3v1h-3zM738 632h2v1h-2zM316 633h5v1h-5zM431 633h2v1h-2zM451 633h2v1h-2zM706 633h2v1h-2zM722 633h4v1h-4zM730 633h2v1h-2zM740 633h3v1h-3zM302 634h14v1h-14zM321 634h1v1h-1zM429 634h2v1h-2zM453 634h2v1h-2zM460 634h5v1h-5zM700 634h6v1h-6zM726 634h4v1h-4zM743 634h2v1h-2zM298 635h4v1h-4zM322 635h2v1h-2zM404 635h5v1h-5zM427 635h2v1h-2zM455 635h5v1h-5zM465 635h1v1h-1zM696 635h4v1h-4zM745 635h1v1h-1zM295 636h3v1h-3zM324 636h1v1h-1zM400 636h4v1h-4zM409 636h2v1h-2zM425 636h2v1h-2zM466 636h1v1h-1zM694 636h2v1h-2zM746 636h1v1h-1zM767 636h2v1h-2zM292 637h3v1h-3zM325 637h1v1h-1zM399 637h1v1h-1zM411 637h2v1h-2zM422 637h3v1h-3zM467 637h1v1h-1zM692 637h2v1h-2zM747 637h1v1h-1zM765 637h2v1h-2zM769 637h2v1h-2zM248 638h2v1h-2zM262 638h4v1h-4zM290 638h2v1h-2zM326 638h2v1h-2zM332 638h5v1h-5zM398 638h1v1h-1zM413 638h2v1h-2zM418 638h4v1h-4zM468 638h1v1h-1zM487 638h2v1h-2zM691 638h1v1h-1zM748 638h1v1h-1zM763 638h2v1h-2zM771 638h1v1h-1zM248 639h1v1h-1zM250 639h4v1h-4zM258 639h4v1h-4zM266 639h2v1h-2zM287 639h3v1h-3zM328 639h4v1h-4zM337 639h1v1h-1zM397 639h1v1h-1zM415 639h3v1h-3zM468 639h1v1h-1zM485 639h2v1h-2zM489 639h1v1h-1zM689 639h2v1h-2zM749 639h1v1h-1zM761 639h2v1h-2zM772 639h2v1h-2zM247 640h1v1h-1zM254 640h4v1h-4zM268 640h3v1h-3zM284 640h3v1h-3zM338 640h1v1h-1zM396 640h1v1h-1zM469 640h1v1h-1zM483 640h2v1h-2zM490 640h1v1h-1zM688 640h1v1h-1zM750 640h1v1h-1zM758 640h3v1h-3zM774 640h2v1h-2zM1008 640h1v1h-1zM1136 640h1v1h-1zM88 641h1v1h-1zM247 641h1v1h-1zM271 641h5v1h-5zM282 641h2v1h-2zM339 641h1v1h-1zM395 641h1v1h-1zM470 641h1v1h-1zM481 641h2v1h-2zM491 641h1v1h-1zM686 641h2v1h-2zM751 641h1v1h-1zM754 641h4v1h-4zM776 641h1v1h-1zM852 641h8v1h-8zM1006 641h2v1h-2zM1009 641h1v1h-1zM1134 641h2v1h-2zM1137 641h1v1h-1zM87 642h1v1h-1zM89 642h2v1h-2zM246 642h1v1h-1zM276 642h6v1h-6zM340 642h1v1h-1zM351 642h3v1h-3zM366 642h3v1h-3zM394 642h1v1h-1zM471 642h1v1h-1zM476 642h5v1h-5zM492 642h2v1h-2zM685 642h1v1h-1zM752 642h2v1h-2zM776 642h1v1h-1zM846 642h6v1h-6zM860 642h8v1h-8zM944 642h1v1h-1zM1005 642h1v1h-1zM1010 642h2v1h-2zM1132 642h2v1h-2zM1137 642h1v1h-1zM87 643h1v1h-1zM91 643h1v1h-1zM246 643h1v1h-1zM341 643h1v1h-1zM349 643h2v1h-2zM354 643h4v1h-4zM362 643h4v1h-4zM369 643h2v1h-2zM393 643h1v1h-1zM472 643h4v1h-4zM494 643h1v1h-1zM684 643h1v1h-1zM777 643h1v1h-1zM842 643h4v1h-4zM868 643h8v1h-8zM943 643h1v1h-1zM945 643h1v1h-1zM1004 643h1v1h-1zM1012 643h1v1h-1zM1131 643h1v1h-1zM1138 643h1v1h-1zM86 644h1v1h-1zM92 644h2v1h-2zM245 644h1v1h-1zM342 644h1v1h-1zM347 644h2v1h-2zM358 644h4v1h-4zM371 644h2v1h-2zM390 644h3v1h-3zM495 644h1v1h-1zM682 644h2v1h-2zM777 644h1v1h-1zM838 644h4v1h-4zM876 644h14v1h-14zM942 644h1v1h-1zM946 644h1v1h-1zM1002 644h2v1h-2zM1013 644h1v1h-1zM1129 644h2v1h-2zM1139 644h1v1h-1zM85 645h1v1h-1zM94 645h2v1h-2zM245 645h1v1h-1zM343 645h1v1h-1zM345 645h2v1h-2zM373 645h2v1h-2zM386 645h4v1h-4zM496 645h2v1h-2zM681 645h1v1h-1zM778 645h1v1h-1zM834 645h4v1h-4zM890 645h4v1h-4zM942 645h1v1h-1zM947 645h1v1h-1zM1001 645h1v1h-1zM1014 645h2v1h-2zM1126 645h3v1h-3zM1139 645h1v1h-1zM84 646h1v1h-1zM96 646h2v1h-2zM244 646h1v1h-1zM344 646h1v1h-1zM375 646h11v1h-11zM498 646h4v1h-4zM678 646h3v1h-3zM778 646h1v1h-1zM832 646h2v1h-2zM894 646h27v1h-27zM941 646h1v1h-1zM948 646h1v1h-1zM991 646h10v1h-10zM1016 646h1v1h-1zM1104 646h2v1h-2zM1122 646h4v1h-4zM1140 646h1v1h-1zM84 647h1v1h-1zM98 647h2v1h-2zM244 647h1v1h-1zM502 647h3v1h-3zM674 647h4v1h-4zM779 647h1v1h-1zM831 647h1v1h-1zM921 647h1v1h-1zM940 647h1v1h-1zM948 647h1v1h-1zM988 647h3v1h-3zM1017 647h2v1h-2zM1102 647h2v1h-2zM1106 647h2v1h-2zM1118 647h4v1h-4zM1141 647h1v1h-1zM83 648h1v1h-1zM100 648h3v1h-3zM244 648h1v1h-1zM505 648h2v1h-2zM668 648h6v1h-6zM779 648h1v1h-1zM831 648h1v1h-1zM922 648h1v1h-1zM939 648h1v1h-1zM949 648h1v1h-1zM986 648h2v1h-2zM1019 648h2v1h-2zM1100 648h2v1h-2zM1108 648h3v1h-3zM1114 648h4v1h-4zM1141 648h1v1h-1zM82 649h1v1h-1zM103 649h2v1h-2zM243 649h1v1h-1zM507 649h1v1h-1zM664 649h4v1h-4zM780 649h1v1h-1zM830 649h1v1h-1zM922 649h1v1h-1zM938 649h1v1h-1zM950 649h1v1h-1zM983 649h3v1h-3zM1021 649h2v1h-2zM1099 649h1v1h-1zM1111 649h3v1h-3zM1142 649h1v1h-1zM81 650h1v1h-1zM105 650h2v1h-2zM243 650h1v1h-1zM508 650h2v1h-2zM663 650h1v1h-1zM780 650h1v1h-1zM829 650h1v1h-1zM923 650h1v1h-1zM938 650h1v1h-1zM951 650h1v1h-1zM981 650h2v1h-2zM1023 650h2v1h-2zM1097 650h2v1h-2zM1143 650h1v1h-1zM81 651h1v1h-1zM107 651h2v1h-2zM242 651h1v1h-1zM510 651h2v1h-2zM663 651h1v1h-1zM780 651h1v1h-1zM829 651h1v1h-1zM924 651h1v1h-1zM937 651h1v1h-1zM952 651h1v1h-1zM979 651h2v1h-2zM1025 651h1v1h-1zM1096 651h1v1h-1zM1143 651h1v1h-1zM78 652h3v1h-3zM109 652h2v1h-2zM242 652h1v1h-1zM512 652h1v1h-1zM662 652h1v1h-1zM781 652h1v1h-1zM828 652h1v1h-1zM925 652h1v1h-1zM935 652h2v1h-2zM953 652h2v1h-2zM977 652h2v1h-2zM1025 652h1v1h-1zM1095 652h1v1h-1zM1144 652h1v1h-1zM74 653h4v1h-4zM111 653h3v1h-3zM241 653h1v1h-1zM513 653h2v1h-2zM662 653h1v1h-1zM781 653h1v1h-1zM827 653h1v1h-1zM926 653h1v1h-1zM933 653h2v1h-2zM955 653h2v1h-2zM966 653h11v1h-11zM1026 653h1v1h-1zM1078 653h3v1h-3zM1094 653h1v1h-1zM1145 653h1v1h-1zM68 654h6v1h-6zM114 654h4v1h-4zM241 654h1v1h-1zM515 654h1v1h-1zM661 654h1v1h-1zM782 654h1v1h-1zM792 654h1v1h-1zM827 654h1v1h-1zM926 654h1v1h-1zM931 654h2v1h-2zM957 654h2v1h-2zM962 654h4v1h-4zM1026 654h1v1h-1zM1074 654h4v1h-4zM1081 654h2v1h-2zM1092 654h2v1h-2zM1146 654h2v1h-2zM64 655h4v1h-4zM118 655h4v1h-4zM240 655h1v1h-1zM516 655h2v1h-2zM660 655h1v1h-1zM782 655h1v1h-1zM790 655h2v1h-2zM793 655h1v1h-1zM826 655h1v1h-1zM927 655h1v1h-1zM929 655h2v1h-2zM959 655h3v1h-3zM1027 655h1v1h-1zM1072 655h2v1h-2zM1083 655h1v1h-1zM1091 655h1v1h-1zM1148 655h1v1h-1zM1192 655h1v1h-1zM63 656h1v1h-1zM122 656h2v1h-2zM239 656h2v1h-2zM518 656h2v1h-2zM632 656h1v1h-1zM660 656h1v1h-1zM783 656h1v1h-1zM788 656h2v1h-2zM794 656h2v1h-2zM825 656h1v1h-1zM928 656h1v1h-1zM1027 656h1v1h-1zM1071 656h1v1h-1zM1084 656h2v1h-2zM1090 656h1v1h-1zM1149 656h1v1h-1zM1191 656h1v1h-1zM1193 656h1v1h-1zM62 657h1v1h-1zM124 657h3v1h-3zM237 657h2v1h-2zM520 657h1v1h-1zM631 657h1v1h-1zM633 657h2v1h-2zM659 657h1v1h-1zM783 657h1v1h-1zM787 657h1v1h-1zM796 657h1v1h-1zM825 657h1v1h-1zM1028 657h1v1h-1zM1070 657h1v1h-1zM1086 657h2v1h-2zM1089 657h1v1h-1zM1150 657h2v1h-2zM1190 657h1v1h-1zM1194 657h1v1h-1zM61 658h1v1h-1zM127 658h2v1h-2zM235 658h2v1h-2zM521 658h1v1h-1zM630 658h1v1h-1zM635 658h1v1h-1zM658 658h1v1h-1zM784 658h3v1h-3zM797 658h1v1h-1zM824 658h1v1h-1zM1028 658h1v1h-1zM1068 658h2v1h-2zM1088 658h1v1h-1zM1152 658h1v1h-1zM1189 658h1v1h-1zM1195 658h1v1h-1zM60 659h1v1h-1zM129 659h2v1h-2zM233 659h2v1h-2zM522 659h1v1h-1zM628 659h2v1h-2zM636 659h2v1h-2zM658 659h1v1h-1zM784 659h1v1h-1zM798 659h2v1h-2zM823 659h1v1h-1zM1029 659h1v1h-1zM1067 659h1v1h-1zM1153 659h1v1h-1zM1188 659h1v1h-1zM1196 659h1v1h-1zM60 660h1v1h-1zM131 660h2v1h-2zM232 660h1v1h-1zM522 660h1v1h-1zM627 660h1v1h-1zM638 660h2v1h-2zM657 660h1v1h-1zM800 660h1v1h-1zM823 660h1v1h-1zM1029 660h1v1h-1zM1066 660h1v1h-1zM1154 660h2v1h-2zM1187 660h1v1h-1zM1196 660h1v1h-1zM1244 660h8v1h-8zM59 661h1v1h-1zM133 661h2v1h-2zM230 661h2v1h-2zM523 661h1v1h-1zM626 661h1v1h-1zM640 661h1v1h-1zM657 661h1v1h-1zM801 661h1v1h-1zM822 661h1v1h-1zM1030 661h1v1h-1zM1065 661h1v1h-1zM1156 661h1v1h-1zM1186 661h1v1h-1zM1197 661h1v1h-1zM1240 661h4v1h-4zM1252 661h5v1h-5zM30 662h12v1h-12zM58 662h1v1h-1zM135 662h2v1h-2zM208 662h9v1h-9zM229 662h1v1h-1zM524 662h1v1h-1zM625 662h1v1h-1zM641 662h2v1h-2zM655 662h2v1h-2zM802 662h2v1h-2zM821 662h1v1h-1zM1030 662h1v1h-1zM1063 662h2v1h-2zM1157 662h1v1h-1zM1172 662h8v1h-8zM1185 662h1v1h-1zM1198 662h1v1h-1zM1206 662h3v1h-3zM1239 662h1v1h-1zM1257 662h1v1h-1zM26 663h4v1h-4zM42 663h2v1h-2zM57 663h1v1h-1zM137 663h1v1h-1zM207 663h1v1h-1zM217 663h2v1h-2zM228 663h1v1h-1zM525 663h1v1h-1zM600 663h10v1h-10zM622 663h3v1h-3zM643 663h2v1h-2zM652 663h3v1h-3zM804 663h1v1h-1zM820 663h1v1h-1zM1031 663h1v1h-1zM1048 663h2v1h-2zM1060 663h3v1h-3zM1158 663h2v1h-2zM1164 663h8v1h-8zM1180 663h5v1h-5zM1199 663h1v1h-1zM1202 663h4v1h-4zM1209 663h2v1h-2zM1238 663h1v1h-1zM1258 663h1v1h-1zM22 664h4v1h-4zM44 664h3v1h-3zM52 664h5v1h-5zM137 664h1v1h-1zM206 664h1v1h-1zM219 664h2v1h-2zM226 664h2v1h-2zM526 664h1v1h-1zM599 664h1v1h-1zM610 664h4v1h-4zM618 664h4v1h-4zM645 664h2v1h-2zM650 664h2v1h-2zM805 664h1v1h-1zM820 664h1v1h-1zM1031 664h1v1h-1zM1047 664h1v1h-1zM1050 664h4v1h-4zM1058 664h2v1h-2zM1160 664h4v1h-4zM1200 664h2v1h-2zM1211 664h1v1h-1zM1238 664h1v1h-1zM1259 664h1v1h-1zM1286 664h6v1h-6zM18 665h4v1h-4zM47 665h5v1h-5zM138 665h1v1h-1zM184 665h1v1h-1zM205 665h1v1h-1zM221 665h2v1h-2zM225 665h1v1h-1zM526 665h1v1h-1zM598 665h1v1h-1zM614 665h4v1h-4zM647 665h3v1h-3zM806 665h2v1h-2zM819 665h1v1h-1zM1032 665h1v1h-1zM1046 665h1v1h-1zM1054 665h4v1h-4zM1212 665h2v1h-2zM1237 665h1v1h-1zM1260 665h1v1h-1zM1271 665h5v1h-5zM1282 665h4v1h-4zM1292 665h5v1h-5zM14 666h4v1h-4zM138 666h1v1h-1zM183 666h1v1h-1zM185 666h1v1h-1zM204 666h1v1h-1zM223 666h2v1h-2zM527 666h1v1h-1zM597 666h1v1h-1zM808 666h2v1h-2zM818 666h1v1h-1zM1032 666h1v1h-1zM1044 666h2v1h-2zM1214 666h2v1h-2zM1236 666h1v1h-1zM1261 666h1v1h-1zM1269 666h2v1h-2zM1276 666h6v1h-6zM10 667h4v1h-4zM139 667h1v1h-1zM182 667h1v1h-1zM186 667h1v1h-1zM204 667h1v1h-1zM528 667h1v1h-1zM596 667h1v1h-1zM810 667h2v1h-2zM817 667h1v1h-1zM1033 667h2v1h-2zM1043 667h1v1h-1zM1216 667h4v1h-4zM1235 667h1v1h-1zM1262 667h1v1h-1zM1267 667h2v1h-2zM8 668h2v1h-2zM139 668h1v1h-1zM180 668h2v1h-2zM187 668h1v1h-1zM203 668h1v1h-1zM529 668h1v1h-1zM596 668h1v1h-1zM812 668h3v1h-3zM817 668h1v1h-1zM1035 668h2v1h-2zM1042 668h1v1h-1zM1220 668h6v1h-6zM1234 668h1v1h-1zM1263 668h1v1h-1zM1265 668h2v1h-2zM140 669h1v1h-1zM152 669h2v1h-2zM179 669h1v1h-1zM188 669h1v1h-1zM202 669h1v1h-1zM530 669h1v1h-1zM595 669h1v1h-1zM815 669h2v1h-2zM1037 669h2v1h-2zM1041 669h1v1h-1zM1226 669h2v1h-2zM1234 669h1v1h-1zM1264 669h1v1h-1zM140 670h1v1h-1zM151 670h1v1h-1zM154 670h2v1h-2zM178 670h1v1h-1zM188 670h1v1h-1zM201 670h1v1h-1zM531 670h1v1h-1zM594 670h1v1h-1zM1039 670h2v1h-2zM1228 670h3v1h-3zM1233 670h1v1h-1zM141 671h1v1h-1zM150 671h1v1h-1zM156 671h3v1h-3zM177 671h1v1h-1zM189 671h1v1h-1zM199 671h2v1h-2zM532 671h1v1h-1zM593 671h1v1h-1zM1231 671h2v1h-2zM141 672h1v1h-1zM149 672h1v1h-1zM159 672h3v1h-3zM174 672h3v1h-3zM190 672h1v1h-1zM196 672h3v1h-3zM532 672h1v1h-1zM592 672h1v1h-1zM142 673h1v1h-1zM148 673h1v1h-1zM162 673h4v1h-4zM170 673h4v1h-4zM191 673h1v1h-1zM194 673h2v1h-2zM533 673h1v1h-1zM591 673h1v1h-1zM142 674h1v1h-1zM148 674h1v1h-1zM166 674h4v1h-4zM192 674h2v1h-2zM534 674h1v1h-1zM591 674h1v1h-1zM143 675h1v1h-1zM147 675h1v1h-1zM535 675h1v1h-1zM590 675h1v1h-1zM143 676h1v1h-1zM146 676h1v1h-1zM536 676h1v1h-1zM590 676h1v1h-1zM144 677h2v1h-2zM537 677h2v1h-2zM589 677h1v1h-1zM144 678h1v1h-1zM539 678h1v1h-1zM551 678h2v1h-2zM589 678h1v1h-1zM540 679h2v1h-2zM548 679h3v1h-3zM553 679h2v1h-2zM588 679h1v1h-1zM542 680h2v1h-2zM546 680h2v1h-2zM555 680h2v1h-2zM588 680h1v1h-1zM544 681h2v1h-2zM557 681h2v1h-2zM587 681h1v1h-1zM559 682h11v1h-11zM587 682h1v1h-1zM570 683h2v1h-2zM586 683h1v1h-1zM572 684h3v1h-3zM586 684h1v1h-1zM575 685h3v1h-3zM585 685h1v1h-1zM578 686h4v1h-4zM585 686h1v1h-1zM582 687h3v1h-3z" fill="#1E90FF"/>
<rect x="1634" y="73" width="2" height="1" fill="#000" />
<rect x="1634" y="122" width="2" height="1" fill="#000" />
<rect x="1634" y="171" width="2" height="1" fill="#000" />
<rect x="1634" y="220" width="2" height="1" fill="#000" />
<rect x="1634" y="269" width="2" height="1" fill="#000" />
<rect x="1634" y="318" width="2" height="1" fill="#000" />
<rect x="1634" y="367" width="2" height="1" fill="#000" />
<rect x="1634" y="416" width="2" height="1" fill="#000" />
<rect x="1634" y="465" width="2" height="1" fill="#000" />
<rect x="1634" y="514" width="2" height="1" fill="#000" />
<rect x="1634" y="536" width="1" height="1" fill="#000" />
<rect x="1634" y="583" width="1" height="1" fill="#000" />
<rect x="1634" y="596" width="1" height="1" fill="#000" />
<rect x="1634" y="601" width="1" height="1" fill="#000" />
<rect x="1634" y="727" width="1" height="1" fill="#000" />
<rect x="8" y="729" width="1" height="3" fill="#000" />
<rect x="104" y="729" width="1" height="3" fill="#000" />
<rect x="200" y="729" width="1" height="3" fill="#000" />
<rect x="296" y="729" width="1" height="3" fill="#000" />
<rect x="392" y="729" width="1" height="3" fill="#000" />
<rect x="488" y="729" width="1" height="3" fill="#000" />
<rect x="584" y="729" width="1" height="3" fill="#000" />
<rect x="680" y="729" width="1" height="3" fill="#000" />
<rect x="776" y="729" width="1" height="3" fill="#000" />
<rect x="872" y="729" width="1" height="3" fill="#000" />
<rect x="968" y="729" width="1" height="3" fill="#000" />
<rect x="1064" y="729" width="1" height="3" fill="#000" />
<rect x="1160" y="729" width="1" height="3" fill="#000" />
<rect x="1256" y="729" width="1" height="3" fill="#000" />
</g>
<text x="1640" y="77.5" font-size="12" fill="#000" textLength="52" lengthAdjust="spacingAndGlyphs" >2808.270</text>
<text x="1640" y="175.5" font-size="12" fill="#000" textLength="52" lengthAdjust="spacingAndGlyphs" >2767.680</text>
<text x="1640" y="224.5" font-size="12" fill="#000" textLength="52" lengthAdjust="spacingAndGlyphs" >2747.180</text>
<text x="1640" y="273.5" font-size="12" fill="#000" textLength="52" lengthAdjust="spacingAndGlyphs" >2726.680</text>
<text x="1640" y="322.5" font-size="12" fill="#000" textLength="52" lengthAdjust="spacingAndGlyphs" >2706.590</text>
<text x="1640" y="371.5" font-size="12" fill="#000" textLength="52" lengthAdjust="spacingAndGlyphs" >2686.090</text>
<text x="1640" y="420.5" font-size="12" fill="#000" textLength="52" lengthAdjust="spacingAndGlyphs" >2665.590</text>
<text x="1640" y="469.5" font-size="12" fill="#000" textLength="52" lengthAdjust="spacingAndGlyphs" >2645.090</text>
<text x="1640" y="518.5" font-size="12" fill="#000" textLength="52" lengthAdjust="spacingAndGlyphs" >2625.000</text>
<rect x="1635" y="50" width="63" height="14" fill="#FF0000" shape-rendering="crispEdges"/>
<text x="1640" y="61.7" font-size="12" fill="#fff" textLength="52" lengthAdjust="spacingAndGlyphs" >2815.515</text>
<rect x="1635" y="118" width="63" height="14" fill="#000" shape-rendering="crispEdges"/>
<text x="1640" y="129.7" font-size="12" fill="#fff" textLength="52" lengthAdjust="spacingAndGlyphs" >2786.500</text>
<rect x="1635" y="131" width="63" height="14" fill="#00FF7F" shape-rendering="crispEdges"/>
<text x="1640" y="142.7" font-size="12" fill="#fff" textLength="52" lengthAdjust="spacingAndGlyphs" >2781.574</text>
<rect x="1635" y="169" width="63" height="14" fill="#0000FF" shape-rendering="crispEdges"/>
<text x="1640" y="180.7" font-size="12" fill="#fff" textLength="52" lengthAdjust="spacingAndGlyphs" >2765.990</text>
<rect x="1635" y="254" width="63" height="14" fill="#0000FF" shape-rendering="crispEdges"/>
<text x="1640" y="265.7" font-size="12" fill="#fff" textLength="52" lengthAdjust="spacingAndGlyphs" >2730.607</text>
<text x="1637.8" y="548.5" font-size="12" fill="#000" textLength="44.6" lengthAdjust="spacingAndGlyphs" >17.1406</text>
<text x="1637.5" y="587.7" font-size="12" fill="#000" textLength="24" lengthAdjust="spacingAndGlyphs" >0.00</text>
<text x="1637.8" y="593.6" font-size="12" fill="#000" textLength="41.5" lengthAdjust="spacingAndGlyphs" >-5.1179</text>
<text x="1637.5" y="613" font-size="12" fill="#000" textLength="19.5" lengthAdjust="spacingAndGlyphs" >100</text>
<text x="1636" y="644" font-size="12" fill="#000" textLength="13" lengthAdjust="spacingAndGlyphs" >70</text>
<text x="1636" y="694.3" font-size="12" fill="#000" textLength="13" lengthAdjust="spacingAndGlyphs" >30</text>
<text x="1637.5" y="724.8" font-size="12" fill="#000" >0</text>
<text x="7.4" y="744" font-size="12" fill="#000" textLength="67.3" lengthAdjust="spacingAndGlyphs" >23 Jan 2019</text>
<text x="103.4" y="744" font-size="12" fill="#000" textLength="72.0" lengthAdjust="spacingAndGlyphs" >25 Jan 20:00</text>
<text x="199.4" y="744" font-size="12" fill="#000" textLength="72.0" lengthAdjust="spacingAndGlyphs" >29 Jan 16:00</text>
<text x="295.4" y="744" font-size="12" fill="#000" textLength="72.0" lengthAdjust="spacingAndGlyphs" >31 Jan 16:00</text>
<text x="391.4" y="744" font-size="12" fill="#000" textLength="66.0" lengthAdjust="spacingAndGlyphs" >4 Feb 12:00</text>
<text x="487.4" y="744" font-size="12" fill="#000" textLength="66.0" lengthAdjust="spacingAndGlyphs" >6 Feb 12:00</text>
<text x="583.4" y="744" font-size="12" fill="#000" textLength="66.0" lengthAdjust="spacingAndGlyphs" >8 Feb 12:00</text>
<text x="679.4" y="744" font-size="12" fill="#000" textLength="74.0" lengthAdjust="spacingAndGlyphs" >12 Feb 08:00</text>
<text x="775.4" y="744" font-size="12" fill="#000" textLength="74.0" lengthAdjust="spacingAndGlyphs" >14 Feb 08:00</text>
<text x="871.4" y="744" font-size="12" fill="#000" textLength="74.0" lengthAdjust="spacingAndGlyphs" >18 Feb 04:00</text>
<text x="967.4" y="744" font-size="12" fill="#000" textLength="74.0" lengthAdjust="spacingAndGlyphs" >20 Feb 04:00</text>
<text x="1063.4" y="744" font-size="12" fill="#000" textLength="74.0" lengthAdjust="spacingAndGlyphs" >22 Feb 04:00</text>
<text x="1159.4" y="744" font-size="12" fill="#000" textLength="74.0" lengthAdjust="spacingAndGlyphs" >26 Feb 00:00</text>
<text x="1255.4" y="744" font-size="12" fill="#000" textLength="74.0" lengthAdjust="spacingAndGlyphs" >28 Feb 00:00</text>
<g shape-rendering="crispEdges">
<rect x="15" y="44" width="1" height="1" fill="#000" />
<rect x="14" y="45" width="3" height="1" fill="#000" />
<rect x="13" y="46" width="5" height="1" fill="#000" />
<rect x="12" y="47" width="7" height="1" fill="#000" />
<rect x="11" y="48" width="9" height="1" fill="#000" />
</g>
<text x="26.2" y="51" font-size="12" fill="#000" textLength="57" lengthAdjust="spacingAndGlyphs" >SP500-,H4</text>
<text x="92.6" y="51" font-size="12" fill="#000" textLength="223" lengthAdjust="spacingAndGlyphs" >2787.500 2791.250 2782.500 2786.500</text>
<text x="11.5" y="551" font-size="12" fill="#000" textLength="171" lengthAdjust="spacingAndGlyphs" >MACD(12,26,9) 0.2019 0.9240</text>
<text x="11.5" y="614.5" font-size="12" fill="#000" textLength="92" lengthAdjust="spacingAndGlyphs" >RSI(14) 48.8643</text>
<g shape-rendering="crispEdges">
<rect x="8" y="57" width="287" height="80" fill="#ffffff" />
<rect x="7" y="134" width="2" height="3" fill="#00FF7F" />
<rect x="11" y="59" width="67" height="28" fill="url(#gTab)" />
<rect x="227" y="59" width="67" height="28" fill="url(#gTab)" />
<rect x="11" y="86" width="141" height="49" fill="#b01010" />
<rect x="154" y="86" width="140" height="49" fill="#b01010" />
<rect x="12" y="87" width="139" height="47" fill="url(#gBig)" />
<rect x="155" y="87" width="138" height="47" fill="url(#gBig)" />
<rect x="11" y="86" width="67" height="1" fill="#e03a3a" />
<rect x="15" y="86" width="60" height="1" fill="#980c0c" />
<rect x="227" y="86" width="67" height="1" fill="#e03a3a" />
<rect x="230" y="86" width="60" height="1" fill="#980c0c" />
<rect x="81" y="59" width="143" height="25" fill="#b4b4b4" />
<rect x="82" y="60" width="141" height="23" fill="#ffffff" />
<rect x="82" y="60" width="23" height="23" fill="url(#gBtn)" />
<rect x="105" y="60" width="1" height="23" fill="#c8c8c8" />
<rect x="200" y="60" width="23" height="23" fill="url(#gBtn)" />
<rect x="199" y="60" width="1" height="23" fill="#c8c8c8" />
</g>
<path d="M89.5 70 L97.5 70 L93.5 74 Z" fill="#4a5cc0"/>
<path d="M207 74 L215 74 L211 70 Z" fill="#4a5cc0"/>
<text x="195.3" y="76.8" font-size="15.5" fill="#000" textLength="30.5" lengthAdjust="spacingAndGlyphs" text-anchor="end" >1.00</text>
<text x="28.6" y="77.3" font-size="14.5" fill="#fff" textLength="32" lengthAdjust="spacingAndGlyphs" >SELL</text>
<text x="245.7" y="77.3" font-size="14.5" fill="#fff" textLength="27.2" lengthAdjust="spacingAndGlyphs" >BUY</text>
<text x="32.4" y="123.7" font-size="15.3" fill="#fff" textLength="35.3" lengthAdjust="spacingAndGlyphs" font-weight="bold" >2786</text>
<text x="71" y="124.3" font-size="42.5" fill="#fff" textLength="45" lengthAdjust="spacingAndGlyphs" >48</text>
<text x="121.3" y="105.6" font-size="14.5" fill="#fff" textLength="8" lengthAdjust="spacingAndGlyphs" font-weight="bold" >5</text>
<text x="173.9" y="123.7" font-size="15.3" fill="#fff" textLength="35" lengthAdjust="spacingAndGlyphs" font-weight="bold" >2787</text>
<text x="215.5" y="124.3" font-size="42.5" fill="#fff" textLength="43.5" lengthAdjust="spacingAndGlyphs" >26</text>
<text x="264.2" y="105.6" font-size="14.5" fill="#fff" textLength="8" lengthAdjust="spacingAndGlyphs" font-weight="bold" >5</text>
<text x="1150.3" y="429" font-size="51.5" fill="#FF2010" textLength="253.6" lengthAdjust="spacingAndGlyphs" style="font-family:'Liberation Sans','Noto Sans CJK SC',sans-serif">多空转折点</text>
<text x="1403.2" y="427.3" font-size="54" fill="#FF2010" textLength="114" lengthAdjust="spacingAndGlyphs" >2781</text>
</svg>
</body></html>
